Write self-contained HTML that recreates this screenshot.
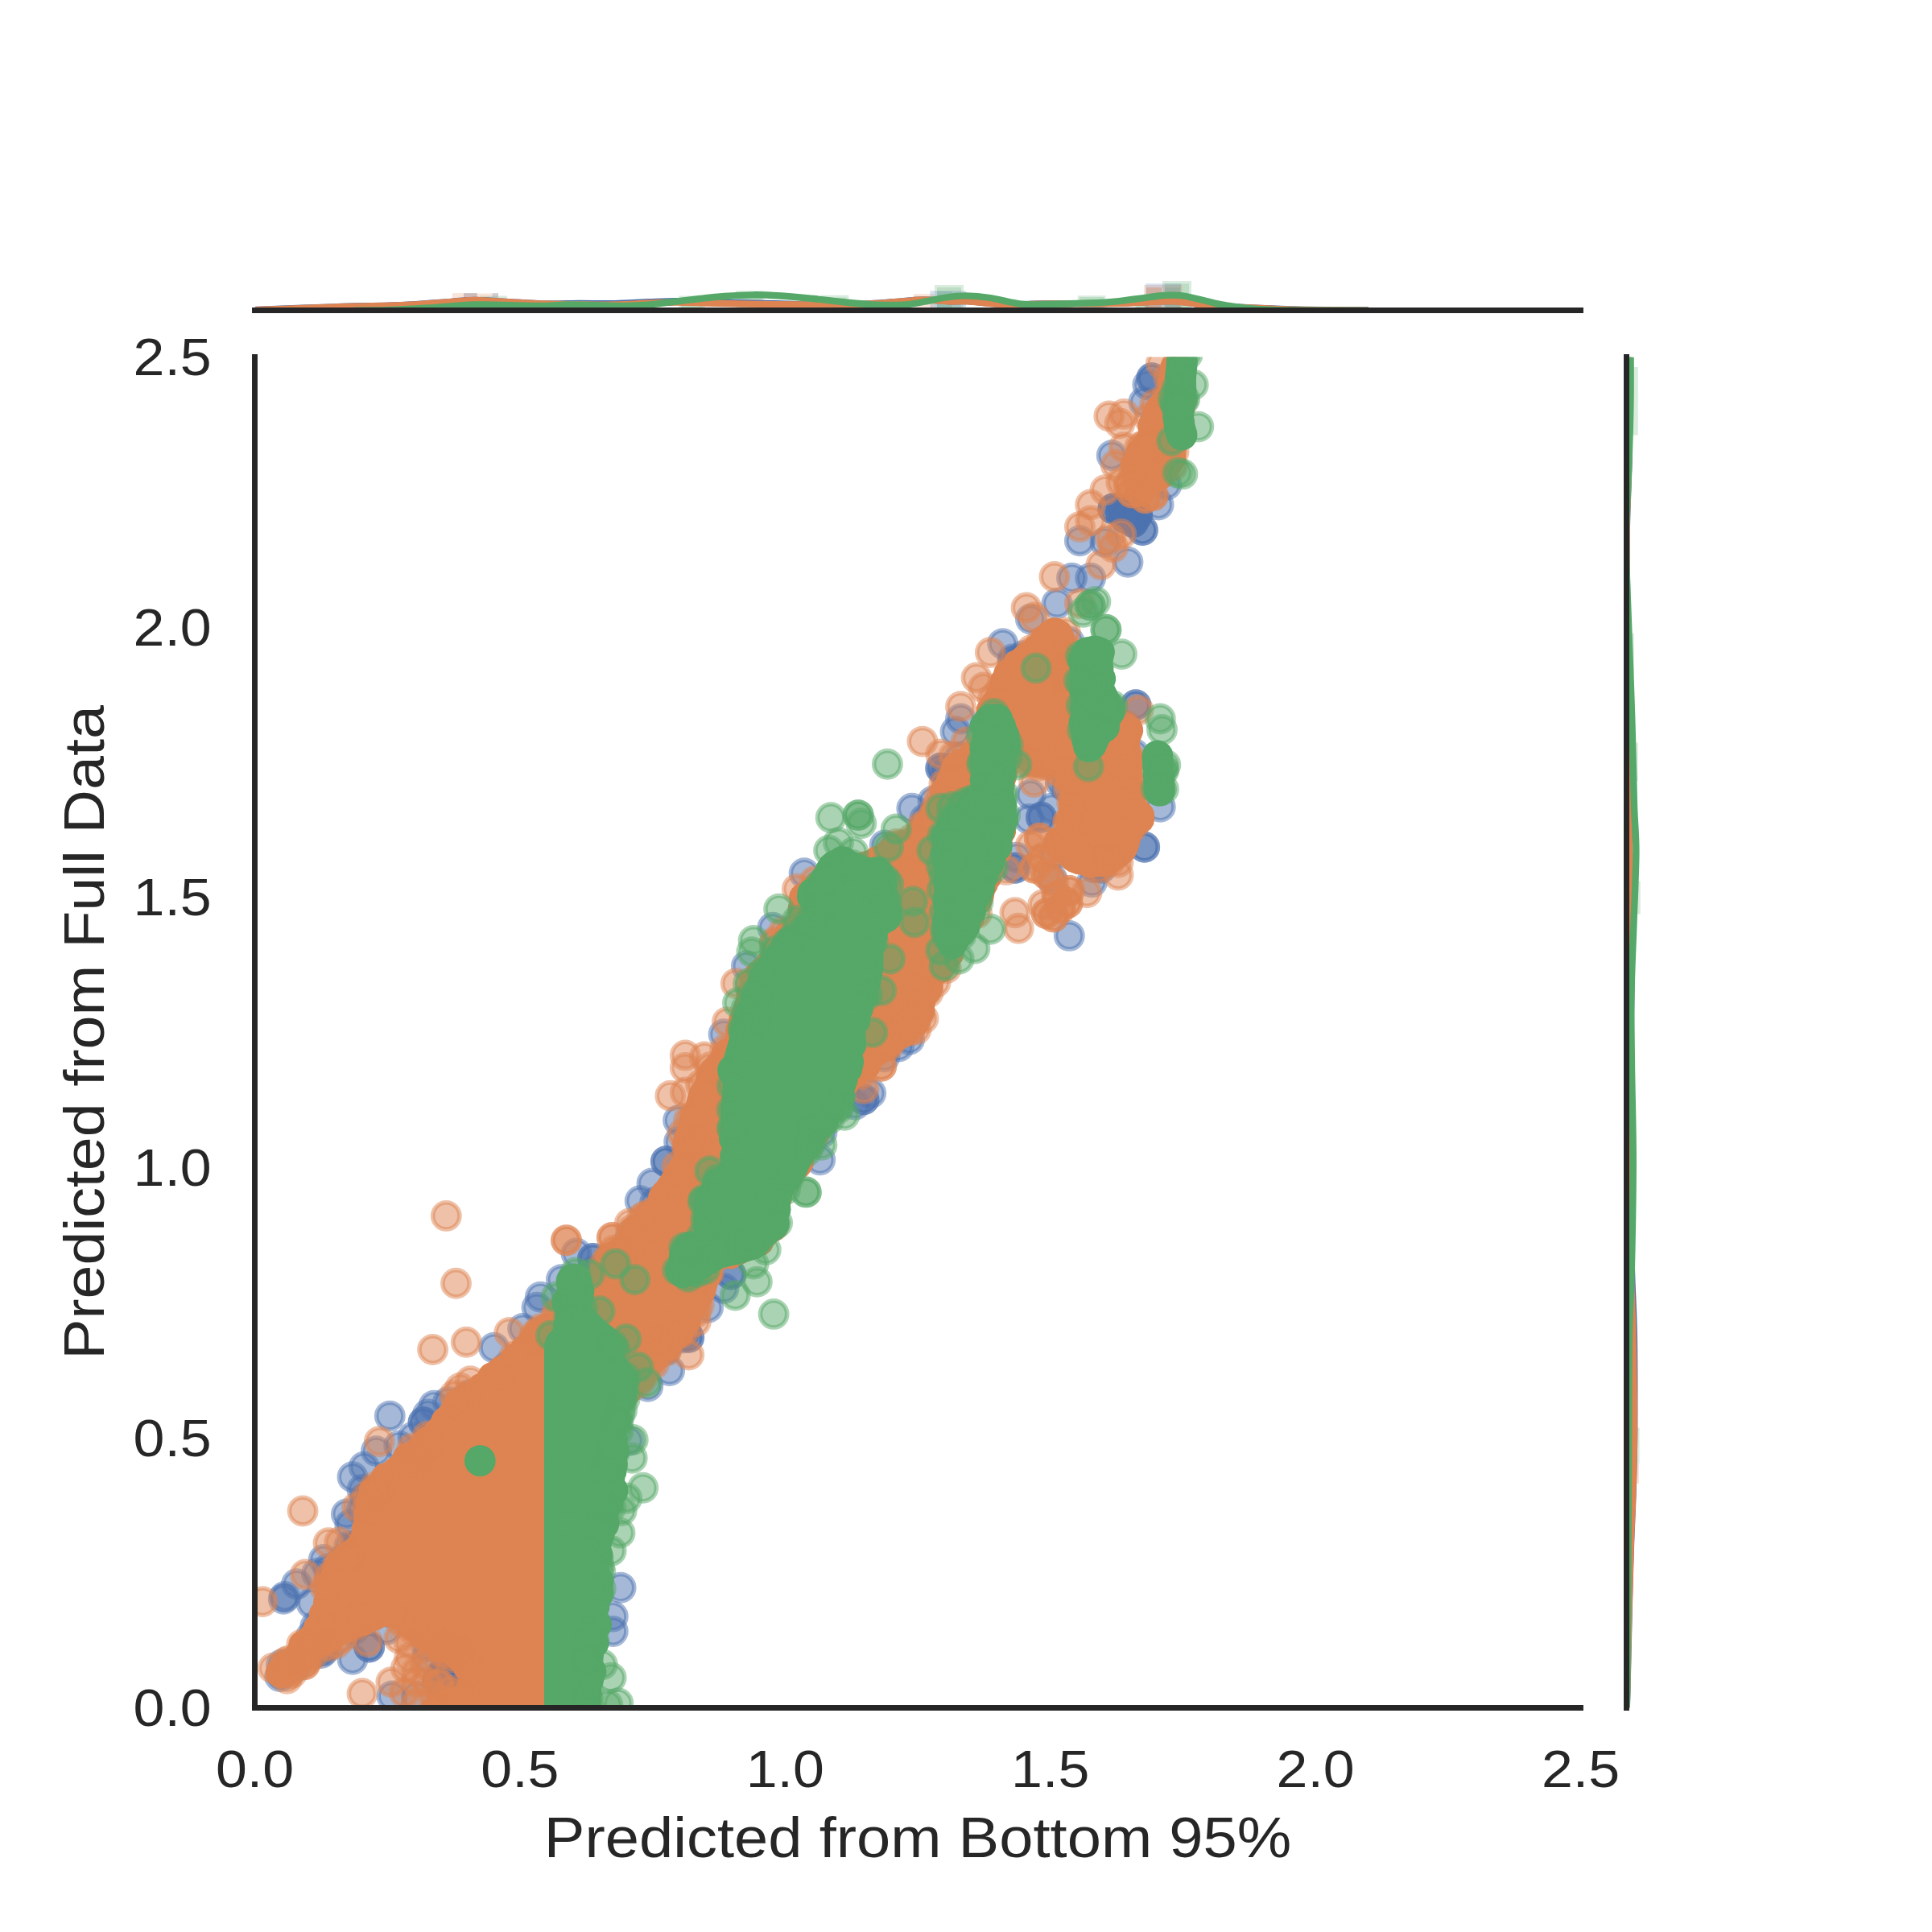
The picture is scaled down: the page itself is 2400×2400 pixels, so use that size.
<!DOCTYPE html>
<html lang="en"><head><meta charset="utf-8"><title>Predicted from Bottom 95% vs Predicted from Full Data</title><style>
html,body{margin:0;padding:0;background:#fff;}
body{width:2400px;height:2400px;overflow:hidden;font-family:"Liberation Sans",sans-serif;}
svg{display:block;}
svg text{font-family:"Liberation Sans",sans-serif;}
.mb circle,.mo circle,.mg circle{r:16.67px;stroke-width:5.56px;fill-opacity:.5;stroke-opacity:.5;}
.mb circle{fill:#4C72B0;stroke:#4C72B0;}
.mo circle{fill:#DD8452;stroke:#DD8452;}
.mg circle{fill:#55A868;stroke:#55A868;}
</style></head><body>
<svg width="2400" height="2400" viewBox="0 0 2400 2400">
<defs><clipPath id="cj"><rect x="316.5" y="443.5" width="1647.0" height="1678.0"/></clipPath><clipPath id="cx"><rect x="316.5" y="40" width="1647.0" height="345.5"/></clipPath><clipPath id="cy"><rect x="2020.5" y="443.5" width="330" height="1678.0"/></clipPath></defs>
<rect width="2400" height="2400" fill="#fff"/>
<g clip-path="url(#cj)">
<g class="mb"><circle cx="484.3" cy="1759.1" r="16.67"/><circle cx="526.1" cy="1766.7" r="16.67"/><circle cx="526.1" cy="1766.7" r="16.67"/><circle cx="531.5" cy="1757" r="16.67"/><circle cx="556.5" cy="1741.7" r="16.67"/><circle cx="467.4" cy="1802.6" r="16.67"/><circle cx="495.7" cy="1796.1" r="16.67"/><circle cx="438" cy="1834.8" r="16.67"/><circle cx="450" cy="1850.4" r="16.67"/><circle cx="434.8" cy="1893.9" r="16.67"/><circle cx="402.2" cy="1937.4" r="16.67"/><circle cx="368.5" cy="1967.8" r="16.67"/><circle cx="352.2" cy="1986.3" r="16.67"/><circle cx="353.7" cy="1983.5" r="16.67"/><circle cx="387" cy="1991.7" r="16.67"/><circle cx="438" cy="2061.3" r="16.67"/><circle cx="458.7" cy="2046.1" r="16.67"/><circle cx="458.7" cy="2046.1" r="16.67"/><circle cx="402.2" cy="2050.4" r="16.67"/><circle cx="487" cy="2107" r="16.67"/><circle cx="480.4" cy="2024.3" r="16.67"/><circle cx="550" cy="2078.7" r="16.67"/><circle cx="550" cy="2078.7" r="16.67"/><circle cx="550" cy="2078.7" r="16.67"/><circle cx="550" cy="2078.7" r="16.67"/><circle cx="543.5" cy="2087.4" r="16.67"/><circle cx="543.5" cy="2087.4" r="16.67"/><circle cx="543.5" cy="2087.4" r="16.67"/><circle cx="556.5" cy="2076.5" r="16.67"/><circle cx="556.5" cy="2076.5" r="16.67"/><circle cx="556.5" cy="2076.5" r="16.67"/><circle cx="517.4" cy="2107" r="16.67"/><circle cx="530.4" cy="2059.1" r="16.67"/><circle cx="539.1" cy="1746.1" r="16.67"/><circle cx="513" cy="1785.2" r="16.67"/><circle cx="452.2" cy="1822.2" r="16.67"/><circle cx="430.4" cy="1880.9" r="16.67"/><circle cx="393.5" cy="1954.8" r="16.67"/><circle cx="771.1" cy="1972.2" r="16.67"/><circle cx="761.3" cy="2008" r="16.67"/><circle cx="761.3" cy="2026.5" r="16.67"/><circle cx="804.8" cy="1722.2" r="16.67"/><circle cx="780.9" cy="1789.6" r="16.67"/><circle cx="715.9" cy="1557" r="16.67"/><circle cx="736.5" cy="1563.5" r="16.67"/><circle cx="736.5" cy="1563.5" r="16.67"/><circle cx="671.3" cy="1611.3" r="16.67"/><circle cx="667" cy="1624.3" r="16.67"/><circle cx="613.7" cy="1674.3" r="16.67"/><circle cx="795.2" cy="1491.7" r="16.67"/><circle cx="697.4" cy="1589.6" r="16.67"/><circle cx="649.6" cy="1650.4" r="16.67"/><circle cx="1081.7" cy="1358" r="16.67"/><circle cx="1062.2" cy="1372.2" r="16.67"/><circle cx="1018.7" cy="1440.7" r="16.67"/><circle cx="1020.9" cy="1407" r="16.67"/><circle cx="827.4" cy="1442.8" r="16.67"/><circle cx="827.4" cy="1442.8" r="16.67"/><circle cx="842.6" cy="1391.7" r="16.67"/><circle cx="810" cy="1470" r="16.67"/><circle cx="907.8" cy="1583" r="16.67"/><circle cx="907.8" cy="1583" r="16.67"/><circle cx="899.1" cy="1600.4" r="16.67"/><circle cx="879.6" cy="1624.3" r="16.67"/><circle cx="855.7" cy="1661.3" r="16.67"/><circle cx="855.7" cy="1661.3" r="16.67"/><circle cx="831.7" cy="1702.6" r="16.67"/><circle cx="1073" cy="1365.7" r="16.67"/><circle cx="1073" cy="1365.7" r="16.67"/><circle cx="1132.8" cy="1004.3" r="16.67"/><circle cx="1168.7" cy="954.3" r="16.67"/><circle cx="1168.7" cy="954.3" r="16.67"/><circle cx="999.1" cy="1084.8" r="16.67"/><circle cx="1116.5" cy="1300" r="16.67"/><circle cx="960" cy="1152.2" r="16.67"/><circle cx="1099.1" cy="1050" r="16.67"/><circle cx="927.4" cy="1200" r="16.67"/><circle cx="899.1" cy="1284.8" r="16.67"/><circle cx="1129.6" cy="1291.3" r="16.67"/><circle cx="1328.3" cy="1162.4" r="16.67"/><circle cx="1260.9" cy="1078.3" r="16.67"/><circle cx="1260.9" cy="1078.3" r="16.67"/><circle cx="1263" cy="1065.2" r="16.67"/><circle cx="1278.3" cy="1017.4" r="16.67"/><circle cx="1293.5" cy="1015.2" r="16.67"/><circle cx="1293.5" cy="1015.2" r="16.67"/><circle cx="1306.5" cy="1004.3" r="16.67"/><circle cx="1317.4" cy="971.7" r="16.67"/><circle cx="1280.4" cy="987" r="16.67"/><circle cx="1421.7" cy="1052.2" r="16.67"/><circle cx="1421.7" cy="1052.2" r="16.67"/><circle cx="1441.3" cy="1002.2" r="16.67"/><circle cx="1187" cy="908.7" r="16.67"/><circle cx="1356.5" cy="1095.7" r="16.67"/><circle cx="1306.5" cy="1091.3" r="16.67"/><circle cx="1313" cy="749.6" r="16.67"/><circle cx="1280.4" cy="769.1" r="16.67"/><circle cx="1245.7" cy="799.6" r="16.67"/><circle cx="1410.9" cy="875.7" r="16.67"/><circle cx="1410.9" cy="875.7" r="16.67"/><circle cx="1193.5" cy="893" r="16.67"/><circle cx="1430.8" cy="469.7" r="16.67"/><circle cx="1430.8" cy="469.7" r="16.67"/><circle cx="1425.9" cy="478" r="16.67"/><circle cx="1420.9" cy="499.5" r="16.67"/><circle cx="1381.2" cy="565.8" r="16.67"/><circle cx="1382.8" cy="632" r="16.67"/><circle cx="1382.8" cy="632" r="16.67"/><circle cx="1382.8" cy="632" r="16.67"/><circle cx="1392.8" cy="635.3" r="16.67"/><circle cx="1392.8" cy="635.3" r="16.67"/><circle cx="1392.8" cy="635.3" r="16.67"/><circle cx="1402.7" cy="633.7" r="16.67"/><circle cx="1402.7" cy="633.7" r="16.67"/><circle cx="1402.7" cy="633.7" r="16.67"/><circle cx="1412.6" cy="640.3" r="16.67"/><circle cx="1412.6" cy="640.3" r="16.67"/><circle cx="1412.6" cy="640.3" r="16.67"/><circle cx="1419.3" cy="658.5" r="16.67"/><circle cx="1419.3" cy="658.5" r="16.67"/><circle cx="1397.7" cy="643.6" r="16.67"/><circle cx="1397.7" cy="643.6" r="16.67"/><circle cx="1397.7" cy="643.6" r="16.67"/><circle cx="1407.7" cy="648.6" r="16.67"/><circle cx="1407.7" cy="648.6" r="16.67"/><circle cx="1407.7" cy="648.6" r="16.67"/><circle cx="1439.1" cy="627" r="16.67"/><circle cx="1449.1" cy="602.2" r="16.67"/><circle cx="1341.4" cy="671.8" r="16.67"/><circle cx="1401" cy="698.3" r="16.67"/><circle cx="1354.7" cy="718.1" r="16.67"/><circle cx="1331.5" cy="718.1" r="16.67"/><circle cx="1372.9" cy="673.4" r="16.67"/><circle cx="391.8" cy="2020.3" r="16.67"/><circle cx="439.7" cy="2024.4" r="16.67"/><circle cx="1328.1" cy="797.1" r="16.67"/><circle cx="449.2" cy="1876.5" r="16.67"/><circle cx="575.8" cy="1739.4" r="16.67"/><circle cx="580.4" cy="1737.4" r="16.67"/><circle cx="399" cy="2053.6" r="16.67"/><circle cx="1310.2" cy="1060.7" r="16.67"/><circle cx="1323.6" cy="978" r="16.67"/><circle cx="1270.4" cy="815" r="16.67"/><circle cx="783.4" cy="1533.8" r="16.67"/><circle cx="349.5" cy="2068" r="16.67"/><circle cx="433.2" cy="2025.6" r="16.67"/><circle cx="347.7" cy="2082.5" r="16.67"/><circle cx="827.6" cy="1676.6" r="16.67"/><circle cx="1408.7" cy="936.3" r="16.67"/><circle cx="637.1" cy="2173.2" r="16.67"/><circle cx="1359.7" cy="1077.8" r="16.67"/><circle cx="630.7" cy="1697.3" r="16.67"/><circle cx="1174.8" cy="955.3" r="16.67"/><circle cx="442.1" cy="1919.7" r="16.67"/><circle cx="456" cy="1859.9" r="16.67"/><circle cx="530.1" cy="2045.2" r="16.67"/><circle cx="566.6" cy="2162.8" r="16.67"/><circle cx="407.8" cy="1948.8" r="16.67"/><circle cx="738.7" cy="1578.8" r="16.67"/><circle cx="620.2" cy="2165.3" r="16.67"/><circle cx="1191.5" cy="940.9" r="16.67"/><circle cx="843.6" cy="1418.2" r="16.67"/><circle cx="426.6" cy="1936.7" r="16.67"/><circle cx="570.7" cy="2097.9" r="16.67"/><circle cx="1398.4" cy="901.4" r="16.67"/><circle cx="1109" cy="1056.4" r="16.67"/><circle cx="1368.1" cy="1078.3" r="16.67"/><circle cx="577.5" cy="2094.5" r="16.67"/><circle cx="1258.5" cy="821.7" r="16.67"/><circle cx="1159" cy="995.1" r="16.67"/><circle cx="387.9" cy="2054.9" r="16.67"/><circle cx="1148.9" cy="1017.4" r="16.67"/><circle cx="433.8" cy="1920.3" r="16.67"/><circle cx="439.9" cy="1923.2" r="16.67"/><circle cx="584.5" cy="1732.2" r="16.67"/><circle cx="1173.8" cy="962" r="16.67"/><circle cx="667.2" cy="2165" r="16.67"/><circle cx="481.8" cy="2002.2" r="16.67"/><circle cx="566.3" cy="2105" r="16.67"/><circle cx="453.7" cy="1860.6" r="16.67"/><circle cx="1311.9" cy="947.6" r="16.67"/><circle cx="1157.9" cy="1013" r="16.67"/><circle cx="1098.9" cy="1312.7" r="16.67"/><circle cx="813.7" cy="1493.5" r="16.67"/><circle cx="735.9" cy="1581.1" r="16.67"/><circle cx="406" cy="2044.8" r="16.67"/><circle cx="586.7" cy="2087" r="16.67"/><circle cx="368.3" cy="2070.1" r="16.67"/><circle cx="852.1" cy="1653.6" r="16.67"/><circle cx="386.4" cy="2032.8" r="16.67"/><circle cx="610" cy="2172.9" r="16.67"/><circle cx="409.4" cy="1965.9" r="16.67"/><circle cx="1301.8" cy="948.7" r="16.67"/><circle cx="547.5" cy="2044.9" r="16.67"/><circle cx="1257.8" cy="819" r="16.67"/><circle cx="847.5" cy="1662.1" r="16.67"/></g>
<path fill="#DD8452" d="M1428.9,493.6L1425.9,497.7L1417.7,513.3L1416.5,518.2L1415,521L1413.3,527.2L1413.3,532.2L1414,536.6L1408.6,545.5L1403.9,549L1400.8,553L1398.8,557.7L1398.2,563.4L1393.9,568.6L1391.4,575.8L1391.4,580.8L1392.7,585.7L1394.7,589.3L1395.2,596.9L1399.1,604.7L1402.1,608.7L1406.2,611.8L1412.6,615.5L1417.5,616.8L1428,616.3L1432.9,615.1L1444.3,609.5L1454.8,603L1459.3,597.9L1464.4,587.2L1467.1,582.9L1469.4,580.4L1472,576L1473.3,571.2L1473.3,566.1L1472.7,563.3L1474.2,555.9L1473.5,548.7L1475.6,541.8L1480.3,536.6L1483.6,529.8L1484.1,522.2L1482.4,516.6L1484.1,512.5L1484.7,506.7L1486.6,502.2L1487.2,497.2L1486.1,490.9L1486.5,484L1485.2,479.1L1483.7,476.2L1486,469.4L1486,464.3L1484.6,459.4L1482.3,455.3L1481,449.1L1477.1,443.3L1474.4,441.1L1468.3,437.7L1460.9,436.2L1453.5,437.7L1447.2,441.9L1444.1,445.9L1442.2,450.6L1440.2,464.3L1439,466.7L1437.7,471.6L1437.7,476.7L1438.8,480.9L1436.9,483.7L1435.3,487.2ZM540.9,1752.3L537.9,1756.3L534.5,1763.8L530.2,1767.8L528,1771.5L523.4,1773.4L519.4,1776.5L516.3,1780.5L514.3,1785.6L510.1,1790.3L508.3,1791.9L504.4,1792L499.5,1793.3L495.1,1795.8L490.1,1801.5L487.8,1808.3L476.9,1816.9L470.3,1819.2L466.3,1822.3L463.2,1826.3L459.9,1832.7L456.4,1836.7L450.9,1840.5L447.8,1844.5L445.9,1849.2L444.6,1857.5L442,1865.1L441.8,1872.4L439.5,1879.4L440,1888.8L437.7,1892.9L436.4,1897.8L436.7,1904.6L432.8,1910.7L429.6,1914.2L418.1,1925.8L413.8,1927L409.4,1929.5L404.4,1935.2L402.5,1939.9L401.9,1944.5L399.1,1950.4L398.5,1954.1L394,1959.4L392,1964.1L390.9,1975.4L391.9,1981.2L389.4,1986.8L388.8,1992.9L386.2,1996.3L384.2,2001L383.7,2008.3L378.7,2014L376.3,2020.6L371.2,2026.2L365.7,2029.1L362.1,2032.7L359.6,2037.1L358.2,2043.7L354.1,2050.3L350.9,2052.1L347.4,2053.2L343,2055.7L333.9,2066.1L331.3,2070.5L330,2075.4L330,2080.4L331.3,2085.3L335.6,2091.6L341.8,2095.8L349.3,2097.3L356.7,2095.8L362.6,2092L366.4,2090.9L370.8,2088.3L374.4,2084.8L377.1,2080.2L383.6,2074.1L388.4,2070.7L391.7,2066.2L397.2,2060.8L411.7,2053.2L417.6,2049.2L423.2,2047.1L427.6,2043.5L439.4,2039L443.4,2035.9L445.2,2033.8L449.8,2032.2L453.2,2032.1L458.1,2030.8L462.5,2028.2L465,2025.9L471.7,2024.5L476.4,2021.6L480.6,2020.6L482.8,2020.6L491.4,2024.5L497,2031.6L509.3,2039.6L512.3,2043.7L516.3,2046.7L524.8,2051.4L529.1,2052.6L533.2,2054.9L536.8,2056L545.4,2060.6L548.4,2063.4L553.7,2066.3L556.5,2069.9L563.4,2075.8L565.3,2080.3L569.9,2085.7L568.1,2089L566.9,2093.2L561.3,2096.9L555.6,2097.5L544.5,2101.4L540.5,2104.5L537.3,2108.6L531.5,2110L527.2,2112.5L523.1,2116.7L515.2,2122.7L512.2,2126.8L510.3,2133.4L510.3,2162.4L511.6,2167.5L513.2,2170.5L518.2,2175.5L522.9,2177.7L526.3,2178.4L540.2,2178.5L545.3,2181.5L552.7,2182.9L557.7,2182.3L564.9,2179.6L569.5,2180.2L576.7,2179.2L583.1,2180.2L588.1,2179.6L591,2178.5L593.6,2178.5L598.1,2180.3L603.2,2181L608.2,2180.3L612.9,2178.5L618.5,2181L623.7,2181.7L628,2183.4L633,2184.1L640.5,2182.6L646.6,2178.5L649.8,2178.5L656.4,2179.9L662.3,2182.7L667.3,2183.3L672.4,2182.7L674.9,2181.8L684.9,2180.8L690.1,2178.5L692.8,2178.5L696.5,2179.4L701.3,2179.4L704.7,2180.7L709.7,2181.4L717.2,2179.9L721.5,2177.4L725.1,2173.8L727.7,2169.4L729,2164.5L729,2159.4L727.7,2154.7L728.1,2150.7L727.5,2145.8L728,2143.6L730.6,2137.9L731.2,2132.9L730.6,2127.9L728.2,2122.6L728.4,2120.6L729.9,2117.7L731.2,2112.8L731.2,2107.8L729.9,2102.9L729.5,2099.2L731.3,2094.8L732,2089.8L731.3,2084.8L729.3,2079.2L732.3,2070L732,2058.2L730.9,2054.1L731.1,2051.8L732.2,2045.5L734,2039.5L734.2,2030.5L735.6,2023.3L735.3,2016L733.6,2010.3L735.2,1984.5L738.5,1979.3L741.4,1966.6L740.9,1959L738.5,1953.6L739.4,1947.8L738,1940.5L739.3,1918.8L740.9,1915.8L742.2,1911L742.2,1905.9L741.5,1902.6L742.4,1898.8L742.5,1894.8L743.6,1890.7L746,1888.2L748.5,1883.8L749.9,1878.9L749.9,1873.8L747.8,1867.3L747.9,1866L749.2,1863.4L750.5,1858.5L750.5,1853.5L749.9,1850.6L751.9,1843.5L751.7,1837.6L754.6,1821.6L758.3,1815.9L759.6,1811L759.6,1805.9L758.3,1801L758.6,1799.6L759,1798.5L762.2,1795.3L764.7,1790.9L766,1786L766.1,1782.2L769.7,1778.6L772.3,1774.3L773.6,1769.4L773.3,1762.8L774.4,1759.8L778.4,1755.3L783.9,1752.4L787.4,1748.8L790.7,1742.4L794.5,1738.2L804.2,1725.1L809.4,1722.3L813,1718.7L815.5,1714.4L817.4,1707.5L820.2,1705.7L823.8,1702.1L826.3,1697.8L827.4,1694.3L830.3,1691.8L835.3,1690.4L841.6,1686.2L844.7,1682.2L846.9,1675.9L848.3,1674.4L855.3,1669.4L858.9,1665.9L861.4,1661.5L863.5,1655.5L867,1652L869.6,1647.6L870.9,1642.7L871,1638.8L880.6,1623.2L888.4,1609.3L891.2,1597.4L895.4,1590L897.4,1585.3L897.8,1577.7L902,1576L909.4,1576.5L914.3,1575.2L920.6,1570.9L924.4,1569.8L928.7,1567.4L942.8,1563.1L947.4,1560.3L952,1558.4L957.7,1553.4L960.9,1547.1L964.9,1542.4L971.4,1539.1L975,1535.5L977.5,1531.2L978.8,1526.3L979.6,1515.4L978.1,1508L979.1,1505.2L979.8,1499.9L982.4,1495.4L983.7,1491.3L984.3,1484.5L986.2,1478.1L989,1476.8L993,1473.7L996.1,1469.7L998.3,1463.7L1003,1460.3L1006.1,1456.3L1008.8,1451.9L1010.8,1447.2L1011.4,1442.2L1011.2,1438.7L1020,1424.7L1024.1,1422.3L1027.7,1418.7L1030.2,1414.3L1032.2,1408.9L1036.3,1404.9L1040.1,1399.4L1042,1394.8L1042.5,1391.7L1051.6,1379.4L1053.6,1374.7L1054.1,1371.7L1057.9,1367L1060.3,1360.1L1063.6,1356.7L1066.7,1350.8L1072.4,1348.6L1076.5,1345.3L1079.4,1341.4L1082.5,1340.5L1086.8,1338L1091.8,1332.3L1095.2,1323.4L1101,1320.4L1110.9,1311.5L1119.9,1305.8L1126.4,1300.9L1129.1,1300L1134.6,1296.9L1138.8,1292.4L1145.7,1287.1L1152,1280.1L1153.7,1277L1156.1,1269.2L1158.8,1265.6L1160.8,1261L1161.4,1255.9L1160.9,1251.6L1162.4,1245L1166,1241.3L1168.6,1236.9L1171.4,1228.5L1171.9,1221.6L1177.2,1218.7L1180.8,1215.1L1183.8,1209.4L1186.5,1206.1L1189.1,1201.2L1194.9,1193.9L1196.9,1189.2L1197.5,1184.2L1203,1173.1L1214.1,1158.4L1216.2,1154.8L1221,1149.3L1223.4,1142.1L1223.1,1135.5L1223.6,1134.5L1228.8,1129.8L1231.4,1125.4L1234.5,1116.2L1235.5,1110L1238.4,1105.1L1239.4,1101.7L1242.3,1097.9L1244.3,1093.2L1244.8,1086.4L1247.8,1080.1L1248.4,1073.6L1250.2,1070.8L1252.9,1067.9L1255.5,1063.5L1256.8,1058.7L1256.8,1053.8L1257.8,1049.7L1257.7,1044.3L1260.8,1039.3L1262.1,1034.4L1261.6,1026.9L1258.6,1020.6L1260.7,1009.7L1259.4,1002.7L1259.5,981.7L1260.6,977.5L1260.7,974.5L1264.1,962.4L1263.7,955.3L1265.3,953.8L1268.4,956.8L1275.7,961.8L1282.1,964.6L1285.5,965.5L1290.8,965.6L1299.6,963L1305.8,962.3L1314.3,970.8L1313.9,977.9L1315.3,982.7L1316.5,985.2L1316.6,987.7L1314.8,997L1315.3,1006.2L1314,1009.5L1312.3,1019.3L1312.3,1024.4L1310.6,1026.6L1302.5,1032.1L1299.1,1035.9L1296.4,1042.1L1296.2,1048.8L1297,1052L1301.4,1061.5L1304.5,1065.5L1308.5,1068.6L1313,1070.5L1317.5,1073.3L1321,1078.3L1327.3,1082.5L1336.6,1085.9L1342,1086.5L1344.6,1088.3L1349.3,1090.3L1354.3,1090.9L1359.3,1090.3L1363.1,1088.8L1367.4,1089.3L1372.4,1088.6L1378.3,1085.9L1382.7,1084.8L1385.6,1083.4L1401,1074.1L1408.7,1065.8L1411.3,1061.4L1413.9,1054.9L1418.3,1038.2L1429.4,1029.9L1433,1024.3L1434.5,1017L1433.7,1008.8L1431.7,1004.1L1428.6,1000.1L1424.6,997L1422.2,995.9L1423.9,990.2L1423.9,985.1L1422.6,980.3L1418.9,973.8L1418.7,970.6L1420,964L1418.7,957.1L1421.7,950.7L1422.4,945.7L1420.9,938.3L1418.4,933.9L1416.5,931.8L1415.9,921.5L1419.5,912L1420.2,908.5L1419.8,903.1L1418.6,899.7L1416.9,896.6L1414.5,893.9L1405.5,887.6L1400.8,885.6L1396.7,885L1394.1,882.5L1389.7,879.9L1384.8,878.6L1379.7,878.6L1371.1,873.6L1364.5,871.2L1361.4,867.4L1357.4,864.3L1352.7,862.3L1348.6,861.7L1343.4,858.4L1341.9,840.8L1342.2,834.3L1341,829.8L1340.6,825.2L1342.5,819.2L1342,811.6L1338.9,805.2L1338.2,799.6L1331,779.7L1328.2,775.5L1325.7,773.2L1317.8,768.8L1312.6,767.2L1308.9,767L1305.3,767.5L1300.2,769.7L1294.8,773.2L1291.1,777.1L1285.5,781L1282.4,785L1280.4,789.8L1276.3,792.4L1271.8,797.2L1266.1,800.9L1258.5,807.4L1252.5,810.5L1248.9,814.1L1246,819.5L1241.6,822L1238,825.6L1235.5,830L1234.2,835L1231.8,838.2L1229.9,842.9L1229.2,847.9L1229.6,851.4L1226.7,855.1L1224.7,860.3L1221.4,863.7L1218.3,869.6L1214.8,873.9L1212.9,878.6L1212.3,884.4L1211,889.3L1211.1,894.8L1208.7,900.1L1207.2,907.1L1207.5,913.5L1206.1,920.3L1199.9,922.5L1195.9,925.6L1192.9,929.5L1180.5,935.5L1175.2,939.7L1173,942.3L1170.7,947L1166.5,960.2L1164.2,963.3L1162.3,968L1158.8,972.4L1156.2,978.2L1154.8,983.1L1154.8,987.1L1152.8,991.7L1151.7,993.9L1149.4,995.8L1146.3,999.8L1144.4,1004.5L1143.8,1008.6L1139.9,1010.9L1136.3,1014.4L1133.4,1019.9L1130.9,1021.5L1127.3,1025.1L1124,1031.6L1121.6,1034L1115.8,1037.8L1109.6,1038.4L1097.5,1042.5L1087.7,1050.5L1081.6,1052.7L1077.1,1056.3L1063,1060.6L1060.3,1060.4L1055.2,1061.1L1050.6,1063L1046.6,1066L1040.7,1068L1034.4,1068.6L1029.7,1070.5L1024.2,1075.3L1013.1,1082.1L1009.9,1083.1L1005.5,1085.6L999.4,1090.9L994.3,1096.8L987.5,1100.1L983.9,1103.7L981.4,1108.1L980.1,1113L980.6,1120.6L978.9,1124.8L978.3,1129.8L979.5,1136.4L978.7,1139.7L977.2,1141.3L974.1,1142.3L969.7,1144.8L966.1,1148.4L963.6,1152.8L962.6,1156.1L957.5,1161.3L955,1165.2L951.8,1167.7L948.7,1171.8L946.8,1176.4L945.7,1181.7L936.2,1193.9L930.2,1198.3L926.6,1201.9L920.3,1212.4L919,1217.3L919.1,1222.6L916.9,1225.5L915,1230.2L914.3,1235.2L914.7,1238.5L908.7,1257.4L905.8,1262.2L904.4,1269.3L901.7,1275.1L901,1280.1L901.7,1285.3L901,1288.7L894.3,1292L888.5,1297.4L884.3,1303.7L882.9,1309.7L879.2,1312.6L876.7,1315.8L872,1320.1L867.8,1326.4L866.4,1332.5L861.9,1345.6L857.9,1350.5L856,1355.2L852.5,1368.5L851.9,1374.8L848.5,1378.2L846.3,1381.4L844.4,1386.1L843.8,1393L838.8,1409.7L836.8,1413.2L835.5,1418.1L835.5,1423.2L837.6,1429.6L837.5,1433.6L830.7,1445.7L825.8,1451.4L823.6,1457.4L815.9,1468.2L812.1,1471.9L807.7,1478.2L805.7,1482.9L805.2,1486.6L803.1,1492.8L799,1494.1L794.6,1496.6L789.6,1502.3L786.7,1508.8L780.5,1511.1L774.8,1516.1L772.2,1520.5L771,1525.2L766.5,1530.4L764.1,1537L762.7,1538.9L758.6,1541L754.9,1543.8L749.3,1545.9L743.6,1550.9L740.3,1557.7L739.7,1563.9L737.5,1565.8L734.4,1569.8L732.2,1575.7L710.6,1601.5L688.7,1621.7L685.3,1623.2L681.3,1626.3L678,1630.7L676.8,1631.7L673.6,1632.2L668.9,1634.1L664.9,1637.2L661.1,1642.6L658.2,1644L654.1,1647L645.5,1658.7L639.2,1662.9L636.1,1667L634.7,1670L628.7,1674.1L624,1678.9L622.1,1682L617.4,1685.4L611.9,1688.3L607.9,1692.6L604.7,1693.5L600.3,1696.1L596.7,1699.7L593.5,1705.9L587.5,1709L580.7,1716.6L575.9,1719.2L571.1,1724.6L567.8,1724.7L562.9,1726L556.6,1730.2L553.6,1734.2L551.5,1739.4L549.8,1741.9L548.2,1745.7L544.6,1749.5Z"/>
<g class="mo"><circle cx="471.3" cy="1790.7" r="16.67"/><circle cx="376.1" cy="1877" r="16.67"/><circle cx="408" cy="1916.7" r="16.67"/><circle cx="421.7" cy="1915.7" r="16.67"/><circle cx="379.3" cy="1955.9" r="16.67"/><circle cx="326.1" cy="1989.6" r="16.67"/><circle cx="450" cy="2103.7" r="16.67"/><circle cx="485.9" cy="2089.6" r="16.67"/><circle cx="456.5" cy="2039.6" r="16.67"/><circle cx="417.4" cy="2041.7" r="16.67"/><circle cx="378.3" cy="2067.8" r="16.67"/><circle cx="356.5" cy="2085.2" r="16.67"/><circle cx="339.1" cy="2072.2" r="16.67"/><circle cx="495.7" cy="2035.2" r="16.67"/><circle cx="508.7" cy="2059.1" r="16.67"/><circle cx="517.4" cy="2076.5" r="16.67"/><circle cx="539.1" cy="2046.1" r="16.67"/><circle cx="517.4" cy="2089.6" r="16.67"/><circle cx="504.3" cy="2072.2" r="16.67"/><circle cx="530.4" cy="2089.6" r="16.67"/><circle cx="502.2" cy="2102.6" r="16.67"/><circle cx="571.7" cy="1724.3" r="16.67"/><circle cx="443.5" cy="1872.2" r="16.67"/><circle cx="517.4" cy="2115.7" r="16.67"/><circle cx="539.1" cy="2107" r="16.67"/><circle cx="560.9" cy="2059.1" r="16.67"/><circle cx="550" cy="2054.8" r="16.67"/><circle cx="528.3" cy="2067.8" r="16.67"/><circle cx="508.7" cy="2041.7" r="16.67"/><circle cx="554.3" cy="1510.4" r="16.67"/><circle cx="566.5" cy="1594.3" r="16.67"/><circle cx="537.6" cy="1676.5" r="16.67"/><circle cx="579.3" cy="1667.2" r="16.67"/><circle cx="632.8" cy="1655.4" r="16.67"/><circle cx="703.5" cy="1540.7" r="16.67"/><circle cx="703.5" cy="1540.7" r="16.67"/><circle cx="584.3" cy="1715.7" r="16.67"/><circle cx="760.4" cy="1537.4" r="16.67"/><circle cx="760.4" cy="1537.4" r="16.67"/><circle cx="782.2" cy="1520" r="16.67"/><circle cx="564.8" cy="1733" r="16.67"/><circle cx="832.8" cy="1361.3" r="16.67"/><circle cx="851.3" cy="1357" r="16.67"/><circle cx="851.3" cy="1326.5" r="16.67"/><circle cx="855.7" cy="1683" r="16.67"/><circle cx="1094.8" cy="1324.3" r="16.67"/><circle cx="1094.8" cy="1324.3" r="16.67"/><circle cx="1073" cy="1352.6" r="16.67"/><circle cx="864.3" cy="1641.7" r="16.67"/><circle cx="1145.9" cy="921.1" r="16.67"/><circle cx="1168.7" cy="937" r="16.67"/><circle cx="914.3" cy="1221.7" r="16.67"/><circle cx="990.4" cy="1104.3" r="16.67"/><circle cx="851.3" cy="1310.9" r="16.67"/><circle cx="875.2" cy="1313" r="16.67"/><circle cx="903.5" cy="1269.6" r="16.67"/><circle cx="1147" cy="1265.2" r="16.67"/><circle cx="1184.8" cy="939.1" r="16.67"/><circle cx="1200" cy="921.7" r="16.67"/><circle cx="1284.8" cy="1078.3" r="16.67"/><circle cx="1284.8" cy="1078.3" r="16.67"/><circle cx="1308.7" cy="1095.7" r="16.67"/><circle cx="1328.3" cy="1106.5" r="16.67"/><circle cx="1328.3" cy="1106.5" r="16.67"/><circle cx="1317.4" cy="1128.3" r="16.67"/><circle cx="1317.4" cy="1128.3" r="16.67"/><circle cx="1308.7" cy="1139.1" r="16.67"/><circle cx="1308.7" cy="1139.1" r="16.67"/><circle cx="1295.7" cy="1123.9" r="16.67"/><circle cx="1350" cy="1108.7" r="16.67"/><circle cx="1389.1" cy="1087" r="16.67"/><circle cx="1260.9" cy="1133.7" r="16.67"/><circle cx="1265.2" cy="1153.3" r="16.67"/><circle cx="1284.8" cy="971.7" r="16.67"/><circle cx="1291.3" cy="1041.3" r="16.67"/><circle cx="1291.3" cy="1041.3" r="16.67"/><circle cx="1280.4" cy="1050" r="16.67"/><circle cx="1250" cy="1080.4" r="16.67"/><circle cx="1313" cy="1113" r="16.67"/><circle cx="1313" cy="1113" r="16.67"/><circle cx="1326.1" cy="1121.7" r="16.67"/><circle cx="1326.1" cy="1121.7" r="16.67"/><circle cx="1300" cy="1134.8" r="16.67"/><circle cx="1300" cy="1134.8" r="16.67"/><circle cx="1295" cy="1066" r="16.67"/><circle cx="1295" cy="1066" r="16.67"/><circle cx="1300" cy="1086" r="16.67"/><circle cx="1300" cy="1086" r="16.67"/><circle cx="1414" cy="882" r="16.67"/><circle cx="549" cy="2113" r="16.67"/><circle cx="560" cy="2100" r="16.67"/><circle cx="545" cy="2092" r="16.67"/><circle cx="545" cy="2092" r="16.67"/><circle cx="1275" cy="755" r="16.67"/><circle cx="1284.8" cy="767" r="16.67"/><circle cx="1230.4" cy="810.4" r="16.67"/><circle cx="1213" cy="842" r="16.67"/><circle cx="1221.7" cy="853.9" r="16.67"/><circle cx="1193.5" cy="877.8" r="16.67"/><circle cx="1341.3" cy="749.6" r="16.67"/><circle cx="1442.4" cy="451.5" r="16.67"/><circle cx="1377.8" cy="516.9" r="16.67"/><circle cx="1396.1" cy="514.4" r="16.67"/><circle cx="1391.1" cy="526" r="16.67"/><circle cx="1396.1" cy="555.8" r="16.67"/><circle cx="1386.1" cy="577.3" r="16.67"/><circle cx="1372.9" cy="608.8" r="16.67"/><circle cx="1354.7" cy="627" r="16.67"/><circle cx="1354.7" cy="646.9" r="16.67"/><circle cx="1341.4" cy="654.4" r="16.67"/><circle cx="1379.5" cy="668.4" r="16.67"/><circle cx="1392.8" cy="663.5" r="16.67"/><circle cx="1382.8" cy="680" r="16.67"/><circle cx="1367.9" cy="701.6" r="16.67"/><circle cx="1309.9" cy="716.5" r="16.67"/><circle cx="1422.6" cy="618.8" r="16.67"/><circle cx="1422.6" cy="618.8" r="16.67"/><circle cx="1415.9" cy="610.5" r="16.67"/><circle cx="1415.9" cy="610.5" r="16.67"/><circle cx="1432.5" cy="615.4" r="16.67"/><circle cx="1432.5" cy="615.4" r="16.67"/><circle cx="1406" cy="612.1" r="16.67"/><circle cx="1406" cy="612.1" r="16.67"/><circle cx="1402.7" cy="602.2" r="16.67"/><circle cx="1402.7" cy="602.2" r="16.67"/><circle cx="1392.8" cy="598.9" r="16.67"/><circle cx="763.1" cy="1553.2" r="16.67"/><circle cx="876.7" cy="1361.6" r="16.67"/><circle cx="880.5" cy="1580.4" r="16.67"/><circle cx="1330.3" cy="1059" r="16.67"/><circle cx="1172.9" cy="973.7" r="16.67"/><circle cx="577.3" cy="1750.6" r="16.67"/><circle cx="1396.1" cy="930.6" r="16.67"/><circle cx="403.7" cy="1971.8" r="16.67"/><circle cx="691.9" cy="1630.7" r="16.67"/><circle cx="429.3" cy="1936" r="16.67"/><circle cx="850.9" cy="1462.6" r="16.67"/><circle cx="1158" cy="1015.4" r="16.67"/><circle cx="454.9" cy="1908.1" r="16.67"/><circle cx="448" cy="2007.1" r="16.67"/><circle cx="1156" cy="1025.3" r="16.67"/><circle cx="541.4" cy="2123.1" r="16.67"/><circle cx="1101.7" cy="1298.5" r="16.67"/><circle cx="1396.7" cy="924.4" r="16.67"/><circle cx="610.1" cy="2155" r="16.67"/><circle cx="620" cy="1707.5" r="16.67"/><circle cx="601.6" cy="2168" r="16.67"/><circle cx="804.9" cy="1681" r="16.67"/><circle cx="1389" cy="1053.9" r="16.67"/><circle cx="1333.9" cy="969.2" r="16.67"/><circle cx="604.8" cy="2161.4" r="16.67"/><circle cx="1321.8" cy="873.6" r="16.67"/><circle cx="1406.2" cy="985.1" r="16.67"/><circle cx="374.8" cy="2042.9" r="16.67"/><circle cx="557.9" cy="2167.4" r="16.67"/><circle cx="1142" cy="1229.2" r="16.67"/><circle cx="435.4" cy="1931.4" r="16.67"/><circle cx="903" cy="1326.8" r="16.67"/><circle cx="404.2" cy="2039.5" r="16.67"/><circle cx="623.7" cy="1702.8" r="16.67"/><circle cx="674.3" cy="1653.5" r="16.67"/><circle cx="530.8" cy="1784.3" r="16.67"/><circle cx="1145.5" cy="1025.9" r="16.67"/><circle cx="646.5" cy="2158.7" r="16.67"/><circle cx="962.5" cy="1170" r="16.67"/><circle cx="1313.9" cy="806.1" r="16.67"/><circle cx="1408.3" cy="992.4" r="16.67"/><circle cx="604.6" cy="2169.2" r="16.67"/><circle cx="1166.4" cy="1013.7" r="16.67"/><circle cx="774.5" cy="1549.7" r="16.67"/><circle cx="607.2" cy="2152" r="16.67"/><circle cx="593.7" cy="2166.8" r="16.67"/><circle cx="1127.4" cy="1271.1" r="16.67"/><circle cx="664.3" cy="1663.6" r="16.67"/><circle cx="1118.1" cy="1049.9" r="16.67"/><circle cx="466.4" cy="1892.4" r="16.67"/><circle cx="1327" cy="1021.3" r="16.67"/><circle cx="863.9" cy="1417.4" r="16.67"/><circle cx="1154.4" cy="1028.7" r="16.67"/><circle cx="1287.2" cy="941.9" r="16.67"/><circle cx="757.5" cy="1573.6" r="16.67"/><circle cx="670.5" cy="1655.4" r="16.67"/><circle cx="579.3" cy="2109.8" r="16.67"/><circle cx="1319.2" cy="869.6" r="16.67"/><circle cx="1258.9" cy="938.1" r="16.67"/><circle cx="1141.1" cy="1247.8" r="16.67"/><circle cx="373.1" cy="2062.3" r="16.67"/><circle cx="516.7" cy="2015.7" r="16.67"/><circle cx="1174.1" cy="997" r="16.67"/><circle cx="862.9" cy="1618.8" r="16.67"/><circle cx="837.9" cy="1660.3" r="16.67"/><circle cx="1389" cy="1071.2" r="16.67"/><circle cx="381.7" cy="2055.4" r="16.67"/><circle cx="1404.8" cy="941.9" r="16.67"/><circle cx="671.1" cy="1650.9" r="16.67"/><circle cx="1242.6" cy="858.8" r="16.67"/><circle cx="1068.7" cy="1319.8" r="16.67"/><circle cx="855.6" cy="1391.6" r="16.67"/><circle cx="465.7" cy="1847.2" r="16.67"/><circle cx="1243.7" cy="869.4" r="16.67"/><circle cx="1400.3" cy="984.7" r="16.67"/><circle cx="570.9" cy="2050.5" r="16.67"/><circle cx="1312.8" cy="943.4" r="16.67"/><circle cx="380.9" cy="2062.4" r="16.67"/><circle cx="1398.9" cy="907" r="16.67"/><circle cx="995.8" cy="1138.7" r="16.67"/><circle cx="474" cy="1847.6" r="16.67"/><circle cx="523.4" cy="1799.4" r="16.67"/><circle cx="566" cy="2122" r="16.67"/><circle cx="586.3" cy="2077.2" r="16.67"/><circle cx="592.9" cy="1736.2" r="16.67"/><circle cx="816.3" cy="1665.9" r="16.67"/><circle cx="1159.8" cy="1199.5" r="16.67"/><circle cx="1328.6" cy="808" r="16.67"/><circle cx="973.5" cy="1157.3" r="16.67"/><circle cx="1314.5" cy="817.3" r="16.67"/><circle cx="840.8" cy="1448.7" r="16.67"/><circle cx="662.8" cy="1662.3" r="16.67"/><circle cx="522.7" cy="1809.6" r="16.67"/><circle cx="1156.8" cy="1027.6" r="16.67"/><circle cx="558.8" cy="2046" r="16.67"/><circle cx="512.3" cy="2023.7" r="16.67"/><circle cx="1319" cy="830.6" r="16.67"/><circle cx="510.5" cy="1810.8" r="16.67"/><circle cx="392.7" cy="2040.8" r="16.67"/><circle cx="1294.6" cy="797.1" r="16.67"/><circle cx="838.1" cy="1469.6" r="16.67"/><circle cx="1407.2" cy="1027.1" r="16.67"/><circle cx="1404" cy="966.2" r="16.67"/><circle cx="1319" cy="814.6" r="16.67"/><circle cx="900" cy="1323" r="16.67"/><circle cx="900.6" cy="1303.7" r="16.67"/><circle cx="1365.7" cy="1078" r="16.67"/><circle cx="1289.2" cy="951.2" r="16.67"/><circle cx="904.6" cy="1316.5" r="16.67"/><circle cx="385.2" cy="2044.9" r="16.67"/><circle cx="447.9" cy="2006" r="16.67"/><circle cx="568.4" cy="2052.7" r="16.67"/><circle cx="1395" cy="965.6" r="16.67"/><circle cx="467.8" cy="1854.5" r="16.67"/><circle cx="961.9" cy="1172.2" r="16.67"/><circle cx="894.8" cy="1330.5" r="16.67"/><circle cx="400.6" cy="2018.2" r="16.67"/><circle cx="1241.8" cy="873" r="16.67"/><circle cx="855.9" cy="1416" r="16.67"/><circle cx="582.4" cy="2165.5" r="16.67"/><circle cx="580.9" cy="2068.4" r="16.67"/><circle cx="1175.4" cy="1202.8" r="16.67"/><circle cx="567.2" cy="2053.4" r="16.67"/><circle cx="456.6" cy="1874.5" r="16.67"/><circle cx="836.4" cy="1658" r="16.67"/><circle cx="687.6" cy="1650.8" r="16.67"/><circle cx="932.2" cy="1223.3" r="16.67"/><circle cx="1319.7" cy="962.1" r="16.67"/><circle cx="1322.8" cy="831.4" r="16.67"/><circle cx="1069.6" cy="1334.4" r="16.67"/><circle cx="598.6" cy="2170.1" r="16.67"/><circle cx="388.1" cy="2056.3" r="16.67"/><circle cx="538.4" cy="2154.8" r="16.67"/><circle cx="1148.6" cy="1042.6" r="16.67"/><circle cx="1012" cy="1094.7" r="16.67"/><circle cx="413.3" cy="2011.1" r="16.67"/><circle cx="1125.1" cy="1062.7" r="16.67"/><circle cx="1334.1" cy="1036.5" r="16.67"/><circle cx="425.4" cy="2033.9" r="16.67"/><circle cx="636.8" cy="2160.9" r="16.67"/><circle cx="1341.1" cy="1016.5" r="16.67"/><circle cx="534.2" cy="1794.9" r="16.67"/><circle cx="638.6" cy="1685.3" r="16.67"/><circle cx="856.8" cy="1616.9" r="16.67"/><circle cx="836.2" cy="1645.8" r="16.67"/><circle cx="506.1" cy="2015.3" r="16.67"/><circle cx="1124.7" cy="1049.7" r="16.67"/><circle cx="1410.9" cy="1010.1" r="16.67"/><circle cx="1113.6" cy="1048.5" r="16.67"/><circle cx="665.9" cy="1657.1" r="16.67"/><circle cx="1160.3" cy="1202" r="16.67"/><circle cx="1213.6" cy="1134.6" r="16.67"/><circle cx="1140.9" cy="1251.3" r="16.67"/><circle cx="362.7" cy="2078.3" r="16.67"/><circle cx="1323.3" cy="785.6" r="16.67"/><circle cx="815.8" cy="1682.9" r="16.67"/><circle cx="1115.3" cy="1281.1" r="16.67"/><circle cx="755.9" cy="1562.2" r="16.67"/><circle cx="565.6" cy="1765" r="16.67"/><circle cx="1104.6" cy="1067.3" r="16.67"/><circle cx="358.1" cy="2079.2" r="16.67"/><circle cx="733.8" cy="1600.7" r="16.67"/><circle cx="1334.9" cy="853.2" r="16.67"/><circle cx="1378.7" cy="1069.8" r="16.67"/><circle cx="1161.4" cy="1020.8" r="16.67"/><circle cx="1251.9" cy="843.1" r="16.67"/><circle cx="850.2" cy="1653.6" r="16.67"/><circle cx="1277.1" cy="944.9" r="16.67"/><circle cx="1359.4" cy="1069.4" r="16.67"/><circle cx="504.1" cy="1816.8" r="16.67"/><circle cx="1367.6" cy="1069.9" r="16.67"/><circle cx="842.6" cy="1469.3" r="16.67"/><circle cx="801.3" cy="1510.8" r="16.67"/><circle cx="1138" cy="1279" r="16.67"/><circle cx="834.6" cy="1485.5" r="16.67"/><circle cx="561" cy="2158.4" r="16.67"/><circle cx="854.6" cy="1427.5" r="16.67"/><circle cx="1162.1" cy="1220.4" r="16.67"/><circle cx="1100.4" cy="1066.9" r="16.67"/><circle cx="1300.5" cy="950.3" r="16.67"/><circle cx="1152.7" cy="1031" r="16.67"/><circle cx="1354.1" cy="1064.4" r="16.67"/><circle cx="1094.8" cy="1297.4" r="16.67"/><circle cx="1126.6" cy="1268.5" r="16.67"/><circle cx="561.9" cy="2042.5" r="16.67"/><circle cx="792.1" cy="1541.3" r="16.67"/><circle cx="1233.4" cy="867.9" r="16.67"/><circle cx="865.4" cy="1381.9" r="16.67"/><circle cx="1094.9" cy="1290.7" r="16.67"/><circle cx="846.7" cy="1458.6" r="16.67"/><circle cx="1142.5" cy="1259.3" r="16.67"/><circle cx="516.5" cy="1815.1" r="16.67"/><circle cx="407.4" cy="1972.6" r="16.67"/><circle cx="1103.8" cy="1299.1" r="16.67"/><circle cx="1375.6" cy="1068.6" r="16.67"/><circle cx="579.8" cy="1734.7" r="16.67"/><circle cx="442.6" cy="2018.2" r="16.67"/><circle cx="772.5" cy="1556.2" r="16.67"/><circle cx="1276.2" cy="948.3" r="16.67"/><circle cx="1314.9" cy="1057.3" r="16.67"/><circle cx="1167" cy="991.1" r="16.67"/><circle cx="1164.7" cy="1191.4" r="16.67"/><circle cx="1151.2" cy="1027.5" r="16.67"/><circle cx="626.7" cy="2155.8" r="16.67"/><circle cx="569.7" cy="2105" r="16.67"/><circle cx="556.3" cy="2153.3" r="16.67"/><circle cx="547.1" cy="2045.8" r="16.67"/><circle cx="546" cy="2045.5" r="16.67"/><circle cx="355" cy="2064.9" r="16.67"/><circle cx="679.7" cy="1659.4" r="16.67"/><circle cx="378.5" cy="2067.8" r="16.67"/><circle cx="862" cy="1611.7" r="16.67"/><circle cx="1318.4" cy="1049.7" r="16.67"/><circle cx="536.3" cy="2031.1" r="16.67"/><circle cx="690.2" cy="1636.3" r="16.67"/><circle cx="728.8" cy="1614.2" r="16.67"/><circle cx="1399.8" cy="1031.2" r="16.67"/><circle cx="860.7" cy="1419.9" r="16.67"/><circle cx="529.3" cy="1794.2" r="16.67"/><circle cx="536.3" cy="2031.3" r="16.67"/><circle cx="1396.2" cy="1047.3" r="16.67"/><circle cx="1395.2" cy="924" r="16.67"/><circle cx="868.2" cy="1620.9" r="16.67"/><circle cx="853.3" cy="1424.2" r="16.67"/><circle cx="559.6" cy="2046.8" r="16.67"/><circle cx="1318.1" cy="837.4" r="16.67"/><circle cx="520.2" cy="1803.1" r="16.67"/><circle cx="855" cy="1416.7" r="16.67"/><circle cx="1161.9" cy="1004.9" r="16.67"/><circle cx="780.6" cy="1555.4" r="16.67"/><circle cx="538.7" cy="1794.2" r="16.67"/><circle cx="552.7" cy="2153.4" r="16.67"/><circle cx="870.6" cy="1347.7" r="16.67"/><circle cx="827.6" cy="1678.2" r="16.67"/><circle cx="1138.2" cy="1051.3" r="16.67"/><circle cx="553.3" cy="2049.3" r="16.67"/><circle cx="497.4" cy="2013.9" r="16.67"/><circle cx="1393.1" cy="942.8" r="16.67"/><circle cx="553.6" cy="1772.6" r="16.67"/><circle cx="770" cy="1564.8" r="16.67"/><circle cx="847.8" cy="1408.4" r="16.67"/><circle cx="1138.7" cy="1230.8" r="16.67"/><circle cx="1130.4" cy="1280.2" r="16.67"/><circle cx="528.3" cy="2154" r="16.67"/><circle cx="996.4" cy="1145.8" r="16.67"/><circle cx="1160.1" cy="1030.2" r="16.67"/><circle cx="807.3" cy="1524.9" r="16.67"/><circle cx="512" cy="1799.1" r="16.67"/><circle cx="465.6" cy="1852" r="16.67"/><circle cx="500.9" cy="1830" r="16.67"/><circle cx="1317.6" cy="959.3" r="16.67"/><circle cx="1324.3" cy="830.5" r="16.67"/><circle cx="534.4" cy="2138.4" r="16.67"/><circle cx="864.3" cy="1630.6" r="16.67"/><circle cx="759.5" cy="1576.4" r="16.67"/><circle cx="519.1" cy="1816.9" r="16.67"/><circle cx="1332.1" cy="825.4" r="16.67"/><circle cx="1205.3" cy="952.2" r="16.67"/><circle cx="799.5" cy="1709.4" r="16.67"/><circle cx="1392.4" cy="948.9" r="16.67"/><circle cx="1407.4" cy="980.7" r="16.67"/><circle cx="1323.6" cy="839.9" r="16.67"/><circle cx="473.7" cy="2002.1" r="16.67"/><circle cx="537.1" cy="2163.9" r="16.67"/><circle cx="1189.5" cy="966.4" r="16.67"/><circle cx="671" cy="1658.4" r="16.67"/><circle cx="659.1" cy="1680.2" r="16.67"/><circle cx="1331.7" cy="997.3" r="16.67"/><circle cx="624.4" cy="2160.5" r="16.67"/><circle cx="1325.1" cy="1040.8" r="16.67"/><circle cx="1326.7" cy="1021.4" r="16.67"/><circle cx="407.2" cy="2045.4" r="16.67"/><circle cx="1328.4" cy="968.5" r="16.67"/><circle cx="1398" cy="901.2" r="16.67"/><circle cx="461.6" cy="2004.4" r="16.67"/><circle cx="1344.4" cy="1064.1" r="16.67"/><circle cx="623.8" cy="1715.8" r="16.67"/><circle cx="1329.8" cy="840.7" r="16.67"/><circle cx="793.3" cy="1713.7" r="16.67"/><circle cx="407.4" cy="2024.4" r="16.67"/><circle cx="1281.5" cy="807.4" r="16.67"/><circle cx="837.7" cy="1472.7" r="16.67"/><circle cx="845.4" cy="1456.6" r="16.67"/><circle cx="532.2" cy="1805.9" r="16.67"/><circle cx="466" cy="1856.3" r="16.67"/><circle cx="793.1" cy="1718.3" r="16.67"/><circle cx="1159.9" cy="1029.4" r="16.67"/><circle cx="358.2" cy="2063.3" r="16.67"/><circle cx="1304.7" cy="944.1" r="16.67"/><circle cx="881.9" cy="1325.8" r="16.67"/><circle cx="749.8" cy="1571.8" r="16.67"/><circle cx="523.5" cy="2148.8" r="16.67"/><circle cx="417.5" cy="1948.7" r="16.67"/><circle cx="797.6" cy="1512.9" r="16.67"/><circle cx="567.5" cy="1744.3" r="16.67"/><circle cx="785.4" cy="1527.6" r="16.67"/><circle cx="1325" cy="862.3" r="16.67"/><circle cx="809.8" cy="1506.3" r="16.67"/><circle cx="681.8" cy="1654.2" r="16.67"/><circle cx="433.1" cy="1934.5" r="16.67"/><circle cx="465.9" cy="1879.6" r="16.67"/><circle cx="409.5" cy="1959" r="16.67"/><circle cx="812.4" cy="1694.6" r="16.67"/><circle cx="1327.7" cy="981.1" r="16.67"/><circle cx="1132.5" cy="1042.1" r="16.67"/><circle cx="1153" cy="1233.1" r="16.67"/><circle cx="861.9" cy="1386.6" r="16.67"/><circle cx="456.4" cy="1858.6" r="16.67"/><circle cx="1212.5" cy="931.1" r="16.67"/><circle cx="1421.4" cy="553.4" r="16.67"/><circle cx="1449.8" cy="578.1" r="16.67"/><circle cx="1426.9" cy="555.2" r="16.67"/><circle cx="1415.8" cy="555.4" r="16.67"/><circle cx="1449.5" cy="572.8" r="16.67"/><circle cx="1455.7" cy="547.9" r="16.67"/><circle cx="1458.1" cy="560.7" r="16.67"/><circle cx="1450.3" cy="491" r="16.67"/><circle cx="1451.5" cy="468.2" r="16.67"/><circle cx="1442" cy="509.5" r="16.67"/><circle cx="1427.2" cy="519" r="16.67"/><circle cx="1456.5" cy="579.3" r="16.67"/><circle cx="1414.9" cy="570.2" r="16.67"/><circle cx="1430.2" cy="589.9" r="16.67"/><circle cx="1434.8" cy="501.8" r="16.67"/><circle cx="1408.3" cy="591.2" r="16.67"/></g>
<path fill="#55A868" d="M1444.3,518.6L1447.2,538.8L1450.4,548L1452.3,551.3L1454.8,554.2L1457.8,556.5L1461.2,558.2L1464.9,559.2L1468.6,559.5L1472.4,559L1476,557.8L1479.3,555.9L1482.2,553.4L1485.5,548.8L1486.8,545.2L1487.5,541.5L1487,535.8L1484.6,528.1L1483.1,518.3L1483.6,504.7L1486.3,487.5L1485.9,470.4L1487.5,453.7L1488,435.2L1486.8,429.7L1484,424.7L1479.9,420.8L1474.8,418.2L1471.1,417.3L1467.3,417.2L1463.5,417.8L1460,419.2L1456.8,421.2L1454,423.8L1451.8,426.9L1450.2,430.4L1449.4,434.1L1448.7,451.9L1447.2,467.8L1447.5,485L1444.9,502ZM1326.4,820.6L1327.1,825.7L1328.3,828.9L1329.6,836L1328.2,843L1329.4,849.4L1328.4,855.4L1328.8,863.5L1330.8,869.8L1329.3,878.2L1330.8,886.8L1328.1,892.6L1327.6,900.2L1329.7,906.7L1329.8,909.8L1331.2,914.8L1331.5,922.7L1333.2,928.3L1333.8,932.8L1337.2,939.6L1342.9,944.6L1350,947L1357.6,946.5L1364.4,943.2L1369.9,938L1372.7,933.9L1376.7,924.3L1378.8,920.9L1383.6,918.2L1388.6,912.5L1390.5,907.8L1391,900.7L1391.9,898.1L1396.1,891.8L1397.4,886.9L1397.4,881.9L1396.1,877L1393.7,872.8L1391.9,867.2L1384.2,851.8L1386,845.9L1386,840.8L1384.7,835.9L1383.3,833.2L1383.4,827.6L1382.2,823.2L1384.8,812.2L1384.9,808.6L1384.3,805L1382.2,800.1L1378.6,796L1374,793.2L1364.8,790.1L1357.2,789.6L1351.9,791.1L1344.7,792.2L1338.6,795.4L1334,800.9L1332.2,804L1330.9,808.3L1327.9,813.2ZM1423.1,991.2L1426.4,995.8L1429.3,998.3L1432.6,1000.2L1438,1001.7L1443.7,1001.6L1449.2,999.9L1453.8,996.6L1457.3,992.1L1459.4,986.8L1459.9,981.1L1456.8,934.4L1455.6,930.8L1452.4,926L1448,922.4L1442.8,920.2L1439,919.6L1435.2,919.8L1431.5,920.7L1428.1,922.3L1425,924.6L1422.5,927.4L1420.5,930.6L1419.2,934.2L1418.6,939.9L1419.6,962.4L1421.4,985.7ZM1188.9,994.7L1186.4,997L1179.8,999.3L1175.8,1002.4L1172.7,1006.4L1171.3,1009.7L1167.1,1014.2L1165.6,1017.2L1163.7,1023.1L1159.4,1028.3L1157.4,1032.9L1156.8,1038L1157.4,1043L1159.9,1048.4L1156.5,1053.7L1155.1,1061.1L1155.7,1066.1L1158.1,1071.4L1160.2,1079.1L1160.2,1109.6L1159,1112.7L1158.3,1117.8L1159,1122.8L1160.2,1126L1160.2,1134.8L1158.2,1139.5L1157.6,1144.5L1158.2,1149.5L1160.2,1154.3L1160.5,1161.5L1165.6,1178.8L1167.9,1183.6L1170.2,1186.4L1174.5,1189.5L1177.8,1190.9L1181.3,1191.5L1184.8,1191.4L1188.3,1190.7L1191.6,1189.3L1194.5,1187.2L1198,1183.2L1202.6,1173.9L1207.9,1170.2L1215.1,1159.8L1217.3,1154.3L1218,1145.9L1221.3,1142.6L1223.8,1138.2L1225.1,1133.3L1224.8,1127L1234,1112.1L1236,1105L1236.1,1100.3L1238.8,1095.5L1240.9,1087.1L1243.3,1084.5L1245.8,1080.1L1248.6,1071.5L1249.1,1067.5L1253.8,1062.7L1257.1,1055.9L1257.8,1050.9L1256.8,1044.8L1259.4,1039.1L1261.8,1027.9L1263.7,1023.3L1264.4,1018.3L1263.7,1013.2L1262.2,1009.3L1263,1003.1L1263,998L1260.6,990.8L1259.4,984.4L1259.4,974.6L1262.4,959.9L1262.4,954.8L1261.4,951L1263.5,944.5L1263.5,939.5L1266.8,932.7L1267.5,927.7L1266.8,922.7L1265.4,919.1L1266.2,913.1L1265.5,908.1L1262.2,901.3L1260.8,895.3L1257.9,890.5L1257,886.8L1254.6,882.2L1251,878.5L1247.5,876.4L1242.8,874.8L1239.5,874.5L1227.8,874.6L1223,875.7L1217.1,879.4L1207.1,891.9L1205.1,896.6L1204.5,901.6L1205.1,906.6L1207.8,912.4L1207.2,915L1207.2,920L1205,925.1L1204.3,930.1L1206.1,940.2L1205.8,962.4L1204.5,969.2L1205.8,976L1205.8,979.4L1202.1,982.2L1199.1,986.2L1196,987.6L1192,990.6ZM891.1,1329.5L892.5,1336.9L897.4,1344.8L897.4,1364.9L895.2,1375.4L895.5,1382L894.9,1386.7L895.8,1392.4L895.5,1399L896.7,1403.6L893.7,1409.9L893,1415L893.7,1420L896.9,1426.6L895.6,1429.1L894.3,1434L894.3,1439.1L895.1,1442.6L893.2,1447.1L889.4,1451.4L886.4,1451.9L881.8,1453.8L876.1,1458.8L872.7,1465.6L872.1,1471.5L870.3,1473.9L867,1476.5L863.9,1480.5L862,1485.2L861.3,1490.2L861.5,1529.4L856.4,1530.1L851.7,1532L847.7,1535.1L845.1,1538.4L839.2,1542.3L836.7,1544.8L834.7,1547.8L833.4,1551.2L831.1,1559.3L830.5,1565.5L827.8,1571L826.5,1575.9L827,1583.4L830.3,1590.2L833.9,1593.8L839.6,1598.1L846.1,1600.4L853,1600.1L858.4,1597.8L861.4,1597.7L866.2,1596.3L870.6,1593.8L875.4,1588.5L882.2,1585.3L898.5,1575.1L917.4,1570.6L944.3,1562.4L948.4,1559.5L962.5,1543.5L971.8,1537.2L977.7,1529.1L979.7,1524.5L980.3,1519.4L979.5,1512.9L981.8,1507.6L982.5,1502.6L981.7,1493L986.3,1477.9L991.4,1473.3L993.9,1468.9L995,1465.5L1001.4,1458.2L1005.8,1449.4L1006.9,1445.6L1009.2,1441.9L1011.5,1440L1014.6,1436L1016.8,1429.7L1026.3,1414.6L1027.8,1412.5L1033.3,1408.7L1036.4,1404.7L1041,1396.5L1042.1,1392.3L1047.6,1384.4L1049.5,1380.6L1053.1,1379L1057.1,1376L1061.3,1369.7L1062.8,1362.2L1061.5,1355.1L1065,1345.8L1065.7,1340.6L1067.7,1338.4L1070.2,1334L1073,1321.3L1073,1316.2L1071.5,1310.8L1075,1304.7L1076.3,1299.8L1075.2,1283.7L1075.8,1280.6L1078.7,1276.8L1080.7,1272.1L1081.2,1264.6L1084.2,1258.2L1084.8,1251.6L1089.1,1246.5L1091.5,1239.3L1091.5,1234.2L1091,1231.5L1093.7,1223.9L1097.4,1204.1L1097.5,1182.4L1100.2,1176.6L1100.8,1171.2L1102.6,1165.4L1102.6,1161.3L1103.6,1159.2L1111.2,1155.2L1115.1,1151.8L1117.1,1149L1120.1,1142.6L1121.5,1137.5L1121,1130.5L1115.6,1119L1115.9,1112.5L1114.4,1107.2L1114.3,1103.2L1113,1097.7L1114,1091.6L1113.4,1086.6L1110,1079.8L1107.7,1077.3L1104.9,1072.1L1101.3,1068.6L1096.9,1066L1092,1064.7L1081.8,1065.4L1078.3,1064.5L1074.4,1064.5L1069.8,1062.8L1065.8,1059.8L1061.3,1057.7L1058.4,1054.9L1054,1052.3L1046.5,1050.9L1041.5,1051.5L1036.8,1053.5L1032.9,1056.4L1030.2,1057.3L1025.8,1059.9L1020.4,1064.5L1014.3,1073.7L1012.7,1078.2L1008.4,1083.2L1006.5,1087.9L1006,1091.3L999.9,1093.5L995.8,1096.6L992.8,1100.6L990.8,1105.3L989.9,1115.2L991,1120.3L992.5,1123.5L1000.5,1134.5L995,1135.9L988.7,1140.1L985.6,1144.1L983.4,1150.3L977.2,1151.7L970.9,1155.9L967.8,1159.9L966.4,1163L962.5,1165.5L959,1169L935,1201.5L926.8,1221.7L919.6,1243.4L916.6,1246.4L914,1250.8L912.6,1258.2L913.2,1263.3L914.4,1266.4L913.8,1269.4L909.9,1273.2L907.3,1277.6L906,1282.5L906.2,1288.6L899.1,1313.8L896.7,1315.8L893.7,1319.8L891.7,1324.5ZM688.1,1642.3L686.8,1647.2L686.7,1650.7L685.7,1653.4L682.7,1655.8L679.6,1659.8L677.7,1664.5L677.1,1668L676,1668L676,2180L692.3,2180L697,2182.8L704.5,2184.3L711.9,2182.8L720.8,2178.5L731.1,2178.2L737.5,2175.5L741.4,2172L743.8,2168.2L747.3,2164.7L749.8,2160.3L751.2,2155.4L750.7,2147.8L747.1,2138.9L747.8,2133.8L747.4,2127.5L745.7,2121.8L747.2,2096.3L749,2093.1L750.3,2087.1L752.9,2081.5L753.5,2076.5L752.1,2069.1L749.2,2064.3L750.1,2055.5L754,2050.8L756.5,2043.6L756.5,2038.6L754.5,2032.3L758.7,2025.9L760.2,2018.5L758.7,2011.1L755.1,2005.5L755.2,2004.2L757,1999.9L757.6,1993.1L761.2,1987.5L762.7,1980.1L762,1975.1L760.9,1972L762.5,1966.5L762.5,1961.4L761.2,1956.5L757.8,1951.2L756.9,1946.1L757.2,1943.3L760,1938.6L761.3,1933.7L761.3,1928.6L759.2,1922.1L760.3,1917.8L762.9,1912.1L763.6,1907.1L767,1902.5L769.4,1895.3L769.4,1890.3L768,1885.2L768.6,1882L772.8,1875.8L774.1,1870.9L774.6,1866L778.1,1861.7L780.5,1854.5L780,1847L778.1,1842.3L776.1,1839.5L776.4,1836.1L777.9,1832.5L778.5,1827L779.8,1822.2L779.8,1817.2L778.8,1813.3L781.1,1807.8L781.8,1802.8L781.1,1797.8L779.2,1793.2L779.7,1785.9L778,1779.1L781.2,1775L783.6,1767.8L783,1752.6L785,1749.1L788.5,1744.7L790.4,1740L791.1,1735L790.8,1731.7L791.3,1722.5L792.6,1719.2L793.2,1714.1L792.6,1709.1L790.6,1704.4L785.6,1698.7L776.5,1685.8L770.7,1663.1L766.2,1654.3L761.2,1648.6L752.5,1642.4L741.7,1631.6L739.7,1628.4L736.1,1624.8L735.9,1622.5L738.5,1603L734.8,1586.5L732.3,1580.4L729.7,1576.9L726.4,1573.9L722.6,1571.7L718.5,1570.2L714.1,1569.5L709.7,1569.7L705.4,1570.8L701.4,1572.7L697.9,1575.3L694.9,1578.6L692.7,1582.4L691.2,1586.5L690.5,1590.9L690.7,1595.3L692.5,1602.9L689.2,1606.4L687.3,1609.3L685.2,1615.9L685.9,1622.9L687.2,1626.1L689.5,1629.5L690.3,1638.4ZM594.4,1795.3L590.7,1796L587.2,1797.5L584,1799.6L581.3,1802.3L579.2,1805.5L577.7,1809L577,1812.7L577,1816.5L577.7,1820.2L579.2,1823.7L581.3,1826.9L584,1829.6L587.2,1831.7L590.7,1833.2L594.4,1833.9L598.2,1833.9L601.9,1833.2L605.4,1831.7L608.6,1829.6L611.3,1826.9L613.4,1823.7L614.9,1820.2L615.6,1816.5L615.6,1812.7L614.9,1809L613.4,1805.5L611.3,1802.3L608.6,1799.6L605.4,1797.5L601.9,1796L598.2,1795.3Z"/>
<g class="mg"><circle cx="798.7" cy="1848.3" r="16.67"/><circle cx="786.3" cy="1788.5" r="16.67"/><circle cx="770" cy="1904.3" r="16.67"/><circle cx="759.1" cy="1926.5" r="16.67"/><circle cx="772.2" cy="1876.5" r="16.67"/><circle cx="778.7" cy="1861.3" r="16.67"/><circle cx="759.1" cy="2084.1" r="16.67"/><circle cx="767.8" cy="2115.7" r="16.67"/><circle cx="754.8" cy="2117.8" r="16.67"/><circle cx="748.3" cy="2067.8" r="16.67"/><circle cx="785.2" cy="1811.3" r="16.67"/><circle cx="764.8" cy="1570" r="16.67"/><circle cx="788.7" cy="1589.6" r="16.67"/><circle cx="732.2" cy="1583" r="16.67"/><circle cx="745.2" cy="1628.7" r="16.67"/><circle cx="777.8" cy="1663.5" r="16.67"/><circle cx="793" cy="1698.3" r="16.67"/><circle cx="714.8" cy="1580.9" r="16.67"/><circle cx="690.9" cy="1611.3" r="16.67"/><circle cx="684.3" cy="1659.1" r="16.67"/><circle cx="1001.3" cy="1480.9" r="16.67"/><circle cx="1001.3" cy="1480.9" r="16.67"/><circle cx="940.4" cy="1592.2" r="16.67"/><circle cx="913.3" cy="1609.1" r="16.67"/><circle cx="961.1" cy="1632.4" r="16.67"/><circle cx="951.3" cy="1552.6" r="16.67"/><circle cx="936.1" cy="1570" r="16.67"/><circle cx="881.7" cy="1454.8" r="16.67"/><circle cx="1049.1" cy="1385.2" r="16.67"/><circle cx="1020.9" cy="1422.2" r="16.67"/><circle cx="803.5" cy="1717.8" r="16.67"/><circle cx="1102.4" cy="949.3" r="16.67"/><circle cx="1032.2" cy="1015.7" r="16.67"/><circle cx="1066.1" cy="1012.6" r="16.67"/><circle cx="1066.1" cy="1012.6" r="16.67"/><circle cx="1069.8" cy="1022.8" r="16.67"/><circle cx="1113.3" cy="1030" r="16.67"/><circle cx="1041.5" cy="1046.7" r="16.67"/><circle cx="1103.5" cy="1052.2" r="16.67"/><circle cx="967.6" cy="1129.3" r="16.67"/><circle cx="936.1" cy="1168.5" r="16.67"/><circle cx="933.9" cy="1182.6" r="16.67"/><circle cx="916.5" cy="1245.7" r="16.67"/><circle cx="1133.9" cy="1119.6" r="16.67"/><circle cx="1136.1" cy="1145.7" r="16.67"/><circle cx="1105.7" cy="1191.3" r="16.67"/><circle cx="1094.8" cy="1230.4" r="16.67"/><circle cx="1083.9" cy="1282.6" r="16.67"/><circle cx="1157.8" cy="1056.5" r="16.67"/><circle cx="1168.7" cy="1004.3" r="16.67"/><circle cx="1168.7" cy="1180.4" r="16.67"/><circle cx="1173" cy="1200" r="16.67"/><circle cx="1060" cy="1058.7" r="16.67"/><circle cx="1029.6" cy="1056.5" r="16.67"/><circle cx="990.4" cy="1143.5" r="16.67"/><circle cx="929.6" cy="1221.7" r="16.67"/><circle cx="1230.4" cy="1154.3" r="16.67"/><circle cx="1210.9" cy="1178.3" r="16.67"/><circle cx="1191.3" cy="1191.3" r="16.67"/><circle cx="1263" cy="950" r="16.67"/><circle cx="1443.5" cy="906.5" r="16.67"/><circle cx="1447.8" cy="950" r="16.67"/><circle cx="1352.2" cy="952.2" r="16.67"/><circle cx="1197.8" cy="997.8" r="16.67"/><circle cx="1182.6" cy="1002.2" r="16.67"/><circle cx="1354.3" cy="751.7" r="16.67"/><circle cx="1354.3" cy="751.7" r="16.67"/><circle cx="1360.9" cy="747.4" r="16.67"/><circle cx="1373.9" cy="782.2" r="16.67"/><circle cx="1373.9" cy="782.2" r="16.67"/><circle cx="1393.5" cy="812.6" r="16.67"/><circle cx="1287" cy="830" r="16.67"/><circle cx="1234.8" cy="886.5" r="16.67"/><circle cx="1441.3" cy="893" r="16.67"/><circle cx="1345.7" cy="760.4" r="16.67"/><circle cx="1463.1" cy="587.3" r="16.67"/><circle cx="1468.9" cy="588.9" r="16.67"/><circle cx="1488.8" cy="530.1" r="16.67"/><circle cx="1482.2" cy="478" r="16.67"/><circle cx="1455.7" cy="547.5" r="16.67"/><circle cx="744.8" cy="1897.7" r="16.67"/><circle cx="732" cy="2073.8" r="16.67"/><circle cx="769.9" cy="1755.4" r="16.67"/><circle cx="731.5" cy="2103.3" r="16.67"/><circle cx="764.2" cy="1676.6" r="16.67"/><circle cx="762.8" cy="1768.3" r="16.67"/><circle cx="711.6" cy="1604.3" r="16.67"/><circle cx="768" cy="1765.8" r="16.67"/><circle cx="733.8" cy="2125.6" r="16.67"/><circle cx="759.8" cy="1673.3" r="16.67"/><circle cx="703.3" cy="1865.2" r="16.67"/><circle cx="755.3" cy="1811.1" r="16.67"/><circle cx="737.5" cy="2022.6" r="16.67"/><circle cx="708.9" cy="1663.3" r="16.67"/><circle cx="776.1" cy="1737.9" r="16.67"/><circle cx="710.6" cy="1625.3" r="16.67"/><circle cx="772.6" cy="1751.8" r="16.67"/><circle cx="748.2" cy="1866.4" r="16.67"/><circle cx="735.7" cy="2027.9" r="16.67"/><circle cx="752.3" cy="1826.5" r="16.67"/><circle cx="756.2" cy="1843.9" r="16.67"/><circle cx="736.4" cy="1972.4" r="16.67"/><circle cx="759.9" cy="1816.6" r="16.67"/><circle cx="727.6" cy="2064.5" r="16.67"/><circle cx="771.3" cy="1733.6" r="16.67"/><circle cx="745.7" cy="1952.1" r="16.67"/><circle cx="760.5" cy="1670.1" r="16.67"/><circle cx="754.3" cy="1823.4" r="16.67"/><circle cx="708" cy="1640.8" r="16.67"/><circle cx="767.1" cy="1767" r="16.67"/><circle cx="710.2" cy="1614.9" r="16.67"/><circle cx="703.2" cy="1890.6" r="16.67"/><circle cx="768" cy="1777.7" r="16.67"/><circle cx="746.8" cy="1880.5" r="16.67"/><circle cx="729.8" cy="2110.4" r="16.67"/><circle cx="776.8" cy="1710.7" r="16.67"/><circle cx="728.8" cy="2061.2" r="16.67"/><circle cx="759.4" cy="1792.2" r="16.67"/><circle cx="746.1" cy="1973.6" r="16.67"/><circle cx="705.4" cy="1614.2" r="16.67"/><circle cx="732" cy="2035.1" r="16.67"/><circle cx="727.2" cy="2114.8" r="16.67"/><circle cx="723.6" cy="1624.6" r="16.67"/><circle cx="775" cy="1722" r="16.67"/><circle cx="758.7" cy="1872.9" r="16.67"/><circle cx="739.6" cy="2014.9" r="16.67"/><circle cx="737.9" cy="2038.4" r="16.67"/><circle cx="746" cy="1868.9" r="16.67"/><circle cx="748" cy="1871.7" r="16.67"/><circle cx="732.9" cy="1927.6" r="16.67"/><circle cx="702.8" cy="1805.7" r="16.67"/><circle cx="731.5" cy="2028.9" r="16.67"/><circle cx="727.3" cy="2122.9" r="16.67"/><circle cx="706.5" cy="1637" r="16.67"/><circle cx="733.7" cy="2146" r="16.67"/><circle cx="727.3" cy="2061.9" r="16.67"/><circle cx="763" cy="1804.7" r="16.67"/><circle cx="743.1" cy="1936.6" r="16.67"/><circle cx="744.3" cy="1946.2" r="16.67"/><circle cx="732.8" cy="2156.8" r="16.67"/><circle cx="728.2" cy="2159.3" r="16.67"/><circle cx="1082.2" cy="1145.4" r="16.67"/><circle cx="984.1" cy="1167.9" r="16.67"/><circle cx="1018.6" cy="1128.4" r="16.67"/><circle cx="1058.9" cy="1074.4" r="16.67"/><circle cx="1030.2" cy="1389.8" r="16.67"/><circle cx="841.6" cy="1577.8" r="16.67"/><circle cx="871.7" cy="1552.4" r="16.67"/><circle cx="855.2" cy="1566.6" r="16.67"/><circle cx="1087.4" cy="1093.5" r="16.67"/><circle cx="1101.1" cy="1120.7" r="16.67"/><circle cx="935.7" cy="1252.4" r="16.67"/><circle cx="1060.8" cy="1247.7" r="16.67"/><circle cx="1077.7" cy="1174.2" r="16.67"/><circle cx="1006.1" cy="1421.6" r="16.67"/><circle cx="1052.9" cy="1074.8" r="16.67"/><circle cx="1008" cy="1417.6" r="16.67"/><circle cx="1001" cy="1414.7" r="16.67"/><circle cx="1016.8" cy="1103.8" r="16.67"/><circle cx="856.1" cy="1549.1" r="16.67"/><circle cx="871.6" cy="1535.7" r="16.67"/><circle cx="927.8" cy="1268.8" r="16.67"/><circle cx="918.6" cy="1547" r="16.67"/><circle cx="865.3" cy="1580.6" r="16.67"/><circle cx="929.4" cy="1268.4" r="16.67"/><circle cx="1044.4" cy="1344" r="16.67"/><circle cx="984" cy="1453" r="16.67"/><circle cx="850.5" cy="1572.7" r="16.67"/><circle cx="896.2" cy="1552" r="16.67"/><circle cx="1077.8" cy="1235.7" r="16.67"/><circle cx="915.6" cy="1369.5" r="16.67"/><circle cx="953.7" cy="1518.3" r="16.67"/><circle cx="979.2" cy="1464.5" r="16.67"/><circle cx="1103.8" cy="1097.9" r="16.67"/><circle cx="874.3" cy="1490" r="16.67"/><circle cx="1099.2" cy="1092.1" r="16.67"/><circle cx="957.6" cy="1489.5" r="16.67"/><circle cx="1015.4" cy="1108.7" r="16.67"/><circle cx="1009.4" cy="1401.1" r="16.67"/><circle cx="875.6" cy="1577" r="16.67"/><circle cx="927" cy="1252.9" r="16.67"/><circle cx="850.4" cy="1559.1" r="16.67"/><circle cx="929.7" cy="1282" r="16.67"/><circle cx="909" cy="1378.8" r="16.67"/><circle cx="958.1" cy="1482.4" r="16.67"/><circle cx="1017.4" cy="1399.6" r="16.67"/><circle cx="1071.5" cy="1203.2" r="16.67"/><circle cx="909.9" cy="1401.9" r="16.67"/><circle cx="1088.9" cy="1110" r="16.67"/><circle cx="896.7" cy="1468.6" r="16.67"/><circle cx="929.1" cy="1546" r="16.67"/><circle cx="987" cy="1162.2" r="16.67"/><circle cx="1090.6" cy="1082.6" r="16.67"/><circle cx="1006.7" cy="1405" r="16.67"/><circle cx="885.3" cy="1486.3" r="16.67"/><circle cx="961.6" cy="1522" r="16.67"/><circle cx="958.3" cy="1492.4" r="16.67"/><circle cx="1099" cy="1118.1" r="16.67"/><circle cx="977.5" cy="1172.4" r="16.67"/><circle cx="1096.4" cy="1134.9" r="16.67"/><circle cx="938.4" cy="1273.4" r="16.67"/><circle cx="1094.1" cy="1100.7" r="16.67"/><circle cx="946.7" cy="1209" r="16.67"/><circle cx="1036.6" cy="1373.1" r="16.67"/><circle cx="941.9" cy="1232.8" r="16.67"/><circle cx="975.5" cy="1477.4" r="16.67"/><circle cx="1020.7" cy="1149.6" r="16.67"/><circle cx="1041.2" cy="1376.9" r="16.67"/><circle cx="1025.4" cy="1382.7" r="16.67"/><circle cx="909.3" cy="1349" r="16.67"/><circle cx="979.8" cy="1170.3" r="16.67"/><circle cx="887.7" cy="1553.3" r="16.67"/><circle cx="849.6" cy="1550" r="16.67"/><circle cx="887" cy="1552.8" r="16.67"/><circle cx="1041.3" cy="1374.3" r="16.67"/><circle cx="1022.7" cy="1394.7" r="16.67"/><circle cx="876.5" cy="1514.6" r="16.67"/><circle cx="882.9" cy="1500.7" r="16.67"/><circle cx="968.2" cy="1457.8" r="16.67"/><circle cx="924.5" cy="1312.2" r="16.67"/><circle cx="855.9" cy="1549.8" r="16.67"/><circle cx="1002.3" cy="1430" r="16.67"/><circle cx="981.7" cy="1452.7" r="16.67"/><circle cx="965.6" cy="1519" r="16.67"/><circle cx="891.3" cy="1464.9" r="16.67"/><circle cx="854.9" cy="1586.3" r="16.67"/><circle cx="1018.4" cy="1099.6" r="16.67"/><circle cx="1068.5" cy="1080.6" r="16.67"/><circle cx="1012.2" cy="1138.9" r="16.67"/><circle cx="931.9" cy="1540.5" r="16.67"/><circle cx="1030.8" cy="1092" r="16.67"/><circle cx="1071.8" cy="1181.7" r="16.67"/><circle cx="929.5" cy="1298.9" r="16.67"/><circle cx="909.5" cy="1401" r="16.67"/><circle cx="1091" cy="1117" r="16.67"/><circle cx="971.1" cy="1190.2" r="16.67"/><circle cx="1088.7" cy="1140.1" r="16.67"/><circle cx="851.7" cy="1553.8" r="16.67"/><circle cx="1063.8" cy="1233.8" r="16.67"/><circle cx="923.4" cy="1276.4" r="16.67"/><circle cx="921.6" cy="1424.4" r="16.67"/><circle cx="1073.7" cy="1218.1" r="16.67"/><circle cx="922.1" cy="1318.5" r="16.67"/><circle cx="1002.8" cy="1145.8" r="16.67"/><circle cx="923.2" cy="1324.8" r="16.67"/><circle cx="932.9" cy="1541.1" r="16.67"/><circle cx="939.7" cy="1232.7" r="16.67"/><circle cx="1048.1" cy="1073.7" r="16.67"/><circle cx="1084.3" cy="1169.8" r="16.67"/><circle cx="962.6" cy="1181.5" r="16.67"/><circle cx="923.1" cy="1279.7" r="16.67"/><circle cx="873.2" cy="1492.7" r="16.67"/><circle cx="940.7" cy="1263.9" r="16.67"/><circle cx="1212.2" cy="992.8" r="16.67"/><circle cx="1252.3" cy="925.7" r="16.67"/><circle cx="1233.9" cy="1078" r="16.67"/><circle cx="1248.7" cy="917.7" r="16.67"/><circle cx="1236.9" cy="1032.8" r="16.67"/><circle cx="1239" cy="974.8" r="16.67"/><circle cx="1206.2" cy="1122.1" r="16.67"/><circle cx="1176.5" cy="1163.4" r="16.67"/><circle cx="1173.1" cy="1133.2" r="16.67"/><circle cx="1169.2" cy="1075.2" r="16.67"/><circle cx="1185.2" cy="1025.7" r="16.67"/><circle cx="1238.7" cy="1034.7" r="16.67"/><circle cx="1185.4" cy="1160" r="16.67"/><circle cx="1170.4" cy="1105.3" r="16.67"/><circle cx="1246.6" cy="986.9" r="16.67"/><circle cx="1171" cy="1037.7" r="16.67"/><circle cx="1177.1" cy="1049.6" r="16.67"/><circle cx="1215" cy="1120.4" r="16.67"/><circle cx="1244.2" cy="996" r="16.67"/><circle cx="1242.7" cy="963.6" r="16.67"/><circle cx="1183.4" cy="1153.5" r="16.67"/><circle cx="1224.2" cy="909.1" r="16.67"/><circle cx="1218.9" cy="913.1" r="16.67"/><circle cx="1251.5" cy="939.9" r="16.67"/><circle cx="1206.9" cy="994.2" r="16.67"/><circle cx="1201.2" cy="1122.8" r="16.67"/><circle cx="1248.6" cy="1012.4" r="16.67"/><circle cx="1183.2" cy="1164.7" r="16.67"/><circle cx="1193.7" cy="1002.9" r="16.67"/><circle cx="1225.1" cy="1076.8" r="16.67"/><circle cx="1211" cy="997" r="16.67"/><circle cx="1181.5" cy="1018.2" r="16.67"/><circle cx="1236" cy="1035.3" r="16.67"/><circle cx="1194.1" cy="1161.4" r="16.67"/><circle cx="1229.2" cy="1057.1" r="16.67"/><circle cx="1175.2" cy="1152.7" r="16.67"/><circle cx="1220.5" cy="945.8" r="16.67"/><circle cx="1219.9" cy="949.9" r="16.67"/><circle cx="1234.6" cy="1001.9" r="16.67"/><circle cx="1193.6" cy="1136.7" r="16.67"/><circle cx="1235.9" cy="966.9" r="16.67"/><circle cx="1212.8" cy="1113.2" r="16.67"/><circle cx="1174.4" cy="1155.9" r="16.67"/><circle cx="1245.7" cy="1020.7" r="16.67"/><circle cx="1220.2" cy="1073.7" r="16.67"/><circle cx="1240.5" cy="1002.4" r="16.67"/><circle cx="1212.1" cy="1001.3" r="16.67"/><circle cx="1196.9" cy="1019.5" r="16.67"/><circle cx="1180.3" cy="1133.2" r="16.67"/><circle cx="1185.6" cy="1072.5" r="16.67"/><circle cx="1182.3" cy="1070.3" r="16.67"/><circle cx="1172.5" cy="1086.3" r="16.67"/><circle cx="1223" cy="995.4" r="16.67"/><circle cx="1181.1" cy="1166.2" r="16.67"/><circle cx="1360.6" cy="813.9" r="16.67"/><circle cx="1377.7" cy="877.5" r="16.67"/><circle cx="1370.9" cy="876.5" r="16.67"/><circle cx="1355" cy="849" r="16.67"/><circle cx="1352.5" cy="810.5" r="16.67"/><circle cx="1377.3" cy="879.4" r="16.67"/><circle cx="1355.6" cy="870" r="16.67"/><circle cx="1342.2" cy="814.9" r="16.67"/><circle cx="1340.3" cy="845.4" r="16.67"/><circle cx="1344.6" cy="907.2" r="16.67"/><circle cx="1343.3" cy="847.6" r="16.67"/><circle cx="1350.5" cy="877.5" r="16.67"/><circle cx="1359" cy="907.2" r="16.67"/><circle cx="1343.2" cy="876.6" r="16.67"/><circle cx="1350.2" cy="886.4" r="16.67"/><circle cx="1361.4" cy="852.3" r="16.67"/><circle cx="1353" cy="862.3" r="16.67"/><circle cx="1350.8" cy="912.5" r="16.67"/><circle cx="1375.4" cy="882.1" r="16.67"/><circle cx="1356.5" cy="823" r="16.67"/><circle cx="1382.1" cy="876.7" r="16.67"/><circle cx="1356.2" cy="873.1" r="16.67"/><circle cx="1354.8" cy="920.9" r="16.67"/><circle cx="1436.2" cy="979.7" r="16.67"/><circle cx="1444.7" cy="955.4" r="16.67"/><circle cx="1445.4" cy="980.3" r="16.67"/><circle cx="1439.8" cy="964.5" r="16.67"/><circle cx="1445.7" cy="956.9" r="16.67"/><circle cx="1466.5" cy="469" r="16.67"/><circle cx="1462.8" cy="504.3" r="16.67"/><circle cx="1460.1" cy="503" r="16.67"/><circle cx="1465.2" cy="481.6" r="16.67"/><circle cx="1457.1" cy="495.2" r="16.67"/><circle cx="1471.6" cy="496" r="16.67"/><circle cx="1463.3" cy="505.2" r="16.67"/><circle cx="1461.8" cy="483.6" r="16.67"/><circle cx="1469.8" cy="496.5" r="16.67"/><circle cx="1461" cy="501.5" r="16.67"/><circle cx="1468.3" cy="451.1" r="16.67"/><circle cx="1475.2" cy="440.2" r="16.67"/></g>
</g>
<g clip-path="url(#cx)">
<rect x="843.5" y="367.4" width="32.5" height="18.1" fill="#55A868" fill-opacity="0.22"/>
<rect x="846" y="370" width="27" height="15.5" fill="#55A868" fill-opacity="0.22"/>
<rect x="914" y="361.3" width="35" height="24.2" fill="#55A868" fill-opacity="0.22"/>
<rect x="917" y="364.5" width="29" height="21" fill="#55A868" fill-opacity="0.22"/>
<rect x="1019.6" y="366.7" width="34.7" height="18.8" fill="#55A868" fill-opacity="0.22"/>
<rect x="1022" y="369.5" width="29" height="16" fill="#55A868" fill-opacity="0.22"/>
<rect x="1161" y="354" width="36" height="31.5" fill="#55A868" fill-opacity="0.22"/>
<rect x="1164" y="357" width="30" height="28.5" fill="#55A868" fill-opacity="0.22"/>
<rect x="1164" y="362" width="19" height="23.5" fill="#55A868" fill-opacity="0.22"/>
<rect x="1338.7" y="367.2" width="34.8" height="18.3" fill="#55A868" fill-opacity="0.22"/>
<rect x="1341" y="369" width="30" height="16.5" fill="#55A868" fill-opacity="0.22"/>
<rect x="1444" y="349" width="36" height="36.5" fill="#55A868" fill-opacity="0.22"/>
<rect x="1447" y="352.3" width="30" height="33.2" fill="#55A868" fill-opacity="0.22"/>
<rect x="1447" y="357.4" width="19" height="28.1" fill="#55A868" fill-opacity="0.22"/>
<rect x="1409.7" y="367.3" width="33.3" height="18.2" fill="#55A868" fill-opacity="0.22"/>
<rect x="1412" y="371" width="13" height="14.5" fill="#55A868" fill-opacity="0.22"/>
<rect x="1135" y="365.2" width="26" height="20.3" fill="#DD8452" fill-opacity="0.22"/>
<rect x="562" y="364.2" width="30" height="21.3" fill="#DD8452" fill-opacity="0.22"/>
<rect x="576" y="364.5" width="43" height="21" fill="#DD8452" fill-opacity="0.22"/>
<rect x="1421" y="354" width="47.7" height="31.5" fill="#DD8452" fill-opacity="0.22"/>
<rect x="1424" y="357" width="19" height="28.5" fill="#DD8452" fill-opacity="0.22"/>
<rect x="1155.4" y="361.3" width="44.6" height="24.2" fill="#4C72B0" fill-opacity="0.22"/>
<rect x="576" y="364" width="17" height="21.5" fill="#4C72B0" fill-opacity="0.22"/>
<rect x="611.6" y="364" width="7.4" height="21.5" fill="#4C72B0" fill-opacity="0.22"/>
<rect x="1423" y="352.3" width="44" height="33.2" fill="#4C72B0" fill-opacity="0.22"/>
<rect x="1424" y="357.5" width="19" height="28" fill="#DD8452" fill-opacity="0.22"/>
<rect x="596" y="367.5" width="34" height="18" fill="#55A868" fill-opacity="0.22"/>
<path d="M317,385C333.5,384.4 385,382.3 416,381.3C447,380.3 478.8,379.9 503,378.8C527.2,377.7 546.5,375.8 561,374.8C575.5,373.8 580.3,372.9 590,372.8C599.7,372.7 604.5,373.6 619,374.3C633.5,375.1 660.2,376.9 677,377.3C693.8,377.7 705.5,376.9 720,376.9C734.5,376.9 749.5,377.5 764,377.2C778.5,376.9 794.3,375.7 807,375.2C819.7,374.7 827.8,374.2 840,374.2C852.2,374.2 865,374.8 880,375.2C895,375.6 910,375.8 930,376.3C950,376.8 981.7,377.9 1000,378.3C1018.3,378.7 1026.7,378.7 1040,378.5C1053.3,378.3 1066.7,378 1080,377.3C1093.3,376.6 1108.7,375.1 1120,374.3C1131.3,373.5 1138,372.3 1148,372.3C1158,372.3 1171,374 1180,374.3C1189,374.6 1193.7,373.7 1202,374.1C1210.3,374.5 1221,376 1230,376.8C1239,377.6 1246,379 1256,379.1C1266,379.2 1276,377.7 1290,377.4C1304,377.1 1321.7,377.4 1340,377.2C1358.3,377 1381,376.8 1400,376.3C1419,375.8 1439,373.9 1454,374.1C1469,374.4 1481.3,376.8 1490,377.8C1498.7,378.8 1497.7,379.7 1506,380.3C1514.3,380.9 1527.7,381.1 1540,381.6C1552.3,382.1 1566.7,382.9 1580,383.4C1593.3,383.9 1600,384.5 1620,384.8C1640,385.1 1686.7,385.3 1700,385.4" fill="none" stroke="#4C72B0" stroke-width="8.33" stroke-linecap="butt" stroke-linejoin="round"/>
<path d="M317,385.2C333.5,384.6 385,382.5 416,381.5C447,380.5 478.8,380.1 503,379C527.2,377.9 546.5,376 561,375C575.5,374 580.3,373.1 590,373C599.7,372.9 604.5,373.8 619,374.5C633.5,375.2 660.2,376.9 677,377.5C693.8,378.1 705.5,378 720,378.2C734.5,378.4 749.5,378.8 764,378.5C778.5,378.2 794.3,377 807,376.5C819.7,376 827.8,375.5 840,375.5C852.2,375.5 865,376.1 880,376.5C895,376.9 910,377.3 930,377.6C950,377.9 981.7,378.3 1000,378.5C1018.3,378.7 1026.7,378.9 1040,378.7C1053.3,378.5 1066.7,378.2 1080,377.5C1093.3,376.8 1108.7,375.3 1120,374.5C1131.3,373.7 1138,372.5 1148,372.5C1158,372.5 1171,374.2 1180,374.5C1189,374.8 1193.7,373.9 1202,374.3C1210.3,374.7 1221,376.2 1230,377C1239,377.8 1246,379.2 1256,379.3C1266,379.4 1276,377.9 1290,377.6C1304,377.3 1321.7,377.6 1340,377.4C1358.3,377.2 1381,377 1400,376.5C1419,376 1439,374.1 1454,374.3C1469,374.6 1481.3,377 1490,378C1498.7,379 1497.7,379.9 1506,380.5C1514.3,381.1 1527.7,381.3 1540,381.8C1552.3,382.3 1566.7,383.1 1580,383.6C1593.3,384.1 1600,384.7 1620,385C1640,385.3 1686.7,385.5 1700,385.6" fill="none" stroke="#DD8452" stroke-width="8.33" stroke-linecap="butt" stroke-linejoin="round"/>
<path d="M440,385.6C446.7,385.5 464.7,385.7 480,385.2C495.3,384.7 513.7,383.6 532,382.5C550.3,381.4 570.7,379 590,378.5C609.3,378 633.5,379.2 648,379.5C662.5,379.8 667.3,380.2 677,380C686.7,379.8 696.3,378.7 706,378.5C715.7,378.3 723,378.8 735,379C747,379.2 766,380.1 778,380C790,379.9 797.3,379.3 807,378.5C816.7,377.7 825.5,376.2 836,375C846.5,373.8 859.3,372.2 870,371C880.7,369.8 889.2,368.8 900,368C910.8,367.2 923.3,366.4 935,366.3C946.7,366.2 957.5,366.7 970,367.5C982.5,368.3 996.7,369.7 1010,371C1023.3,372.3 1037.8,374.3 1050,375.5C1062.2,376.7 1073,377.7 1083,378.3C1093,378.9 1102.8,379 1110,379C1117.2,379 1119.3,379.2 1126,378.5C1132.7,377.8 1141.8,376 1150,374.5C1158.2,373 1166.7,370.7 1175,369.5C1183.3,368.3 1190.8,367.3 1200,367.4C1209.2,367.5 1220.7,368.6 1230,370C1239.3,371.4 1248,374.1 1256,375.5C1264,376.9 1267.3,378 1278,378.3C1288.7,378.6 1303.7,378 1320,377.5C1336.3,377 1361,376.4 1376,375.4C1391,374.4 1399.3,372.8 1410,371.5C1420.7,370.2 1432.7,368.3 1440,367.5C1447.3,366.7 1449,366.7 1454,366.7C1459,366.7 1463.2,366.4 1470,367.5C1476.8,368.6 1486.8,371.1 1495,373C1503.2,374.9 1510.7,377.1 1519,378.7C1527.3,380.2 1536.5,381.4 1545,382.3C1553.5,383.2 1560.8,383.9 1570,384.4C1579.2,384.9 1578.3,385.3 1600,385.5C1621.7,385.7 1683.3,385.8 1700,385.8" fill="none" stroke="#55A868" stroke-width="8.33" stroke-linecap="butt" stroke-linejoin="round"/>
</g>
<g clip-path="url(#cy)">
<rect x="2020.5" y="456" width="14.3" height="84.6" fill="#55A868" fill-opacity="0.22"/>
<rect x="2020.5" y="787" width="9.3" height="51.6" fill="#55A868" fill-opacity="0.22"/>
<rect x="2020.5" y="922.6" width="14.3" height="47.4" fill="#55A868" fill-opacity="0.22"/>
<rect x="2020.5" y="1094.4" width="17.3" height="41.3" fill="#55A868" fill-opacity="0.22"/>
<rect x="2020.5" y="1773.6" width="16.1" height="44.3" fill="#55A868" fill-opacity="0.22"/>
<rect x="2020.5" y="1817.9" width="15.5" height="25.1" fill="#DD8452" fill-opacity="0.22"/>
<rect x="2020.5" y="1700" width="10.5" height="73" fill="#4C72B0" fill-opacity="0.22"/>
<path d="M2022.7,443.5C2022.9,462.9 2024,522.9 2023.7,560C2023.4,597.1 2021,626 2020.7,666C2020.4,706 2021.3,744.3 2021.7,800C2022.1,855.7 2022.6,950 2023.2,1000C2023.8,1050 2024.6,1066.7 2025.2,1100C2025.8,1133.3 2026.8,1162.7 2026.7,1200C2026.6,1237.3 2025.1,1283.7 2024.7,1324C2024.3,1364.3 2023.9,1401 2024.2,1442C2024.5,1483 2025.8,1534 2026.7,1570C2027.6,1606 2029.2,1623.7 2029.8,1658C2030.4,1692.3 2030.4,1744 2030.2,1776C2030,1808 2029.4,1825.3 2028.7,1850C2028,1874.7 2026.6,1899 2025.8,1924C2025,1949 2024.4,1970.5 2023.7,2000C2023,2029.5 2021.9,2080.8 2021.4,2101C2020.9,2121.2 2020.8,2118.1 2020.7,2121.5" fill="none" stroke="#4C72B0" stroke-width="8.33"/>
<path d="M2022.5,443.5C2022.7,462.9 2023.8,522.9 2023.5,560C2023.2,597.1 2020.8,626 2020.5,666C2020.2,706 2021.1,744.3 2021.5,800C2021.9,855.7 2022.4,950 2023,1000C2023.6,1050 2024.4,1066.7 2025,1100C2025.6,1133.3 2026.6,1162.7 2026.5,1200C2026.4,1237.3 2024.9,1283.7 2024.5,1324C2024.1,1364.3 2023.8,1401 2024,1442C2024.2,1483 2024.7,1534 2025.5,1570C2026.3,1606 2027.8,1623.7 2028.6,1658C2029.3,1692.3 2030,1744 2030,1776C2030,1808 2029.2,1825.3 2028.5,1850C2027.8,1874.7 2026.4,1899 2025.6,1924C2024.8,1949 2024.2,1970.5 2023.5,2000C2022.8,2029.5 2021.7,2080.8 2021.2,2101C2020.7,2121.2 2020.6,2118.1 2020.5,2121.5" fill="none" stroke="#DD8452" stroke-width="8.33"/>
<path d="M2025.6,443.5C2025.6,452.9 2025.8,480.6 2025.5,500C2025.2,519.4 2024.7,540 2024,560C2023.3,580 2022.2,602.3 2021.5,620C2020.8,637.7 2020.1,649.3 2020,666C2019.9,682.7 2020.3,697.7 2021,720C2021.7,742.3 2022.9,770 2024,800C2025.1,830 2026.5,866.7 2027.5,900C2028.5,933.3 2029.2,973.5 2030,1000C2030.8,1026.5 2032.5,1034.5 2032.4,1059C2032.3,1083.5 2030.5,1117.5 2029.5,1147C2028.5,1176.5 2026.9,1206.5 2026.5,1236C2026.1,1265.5 2026.6,1289.7 2027,1324C2027.4,1358.3 2028.8,1401 2028.8,1442C2028.8,1483 2027.8,1534 2027,1570C2026.2,1606 2024.6,1623.7 2024,1658C2023.4,1692.3 2023.5,1734.5 2023.3,1776C2023.1,1817.5 2023,1856.7 2022.7,1907C2022.4,1957.3 2021.9,2042.2 2021.5,2078C2021.1,2113.8 2020.7,2114.2 2020.5,2121.5" fill="none" stroke="#55A868" stroke-width="8.33"/>
</g>
<line x1="316.5" y1="443.5" x2="316.5" y2="2121.5" stroke="#262626" stroke-width="6.94" stroke-linecap="square"/>
<line x1="316.5" y1="2121.5" x2="1963.5" y2="2121.5" stroke="#262626" stroke-width="6.94" stroke-linecap="square"/>
<line x1="316.5" y1="385.5" x2="1963.5" y2="385.5" stroke="#262626" stroke-width="6.94" stroke-linecap="square"/>
<line x1="2020.5" y1="443.5" x2="2020.5" y2="2121.5" stroke="#262626" stroke-width="6.94" stroke-linecap="square"/>
<g font-family="Liberation Sans, sans-serif" fill="#262626">
<text x="316.5" y="2220.3" font-size="65.3" text-anchor="middle" textLength="97.2" lengthAdjust="spacingAndGlyphs">0.0</text>
<text x="262.7" y="2144.2" font-size="65.3" text-anchor="end" textLength="97.2" lengthAdjust="spacingAndGlyphs">0.0</text>
<text x="645.9" y="2220.3" font-size="65.3" text-anchor="middle" textLength="97.2" lengthAdjust="spacingAndGlyphs">0.5</text>
<text x="262.7" y="1808.6" font-size="65.3" text-anchor="end" textLength="97.2" lengthAdjust="spacingAndGlyphs">0.5</text>
<text x="975.3" y="2220.3" font-size="65.3" text-anchor="middle" textLength="97.2" lengthAdjust="spacingAndGlyphs">1.0</text>
<text x="262.7" y="1473" font-size="65.3" text-anchor="end" textLength="97.2" lengthAdjust="spacingAndGlyphs">1.0</text>
<text x="1304.7" y="2220.3" font-size="65.3" text-anchor="middle" textLength="97.2" lengthAdjust="spacingAndGlyphs">1.5</text>
<text x="262.7" y="1137.4" font-size="65.3" text-anchor="end" textLength="97.2" lengthAdjust="spacingAndGlyphs">1.5</text>
<text x="1634.1" y="2220.3" font-size="65.3" text-anchor="middle" textLength="97.2" lengthAdjust="spacingAndGlyphs">2.0</text>
<text x="262.7" y="801.8" font-size="65.3" text-anchor="end" textLength="97.2" lengthAdjust="spacingAndGlyphs">2.0</text>
<text x="1963.5" y="2220.3" font-size="65.3" text-anchor="middle" textLength="97.2" lengthAdjust="spacingAndGlyphs">2.5</text>
<text x="262.7" y="466.2" font-size="65.3" text-anchor="end" textLength="97.2" lengthAdjust="spacingAndGlyphs">2.5</text>
<text x="1140" y="2306.9" font-size="70.6" text-anchor="middle" textLength="928.5" lengthAdjust="spacingAndGlyphs">Predicted from Bottom 95%</text>
<text transform="translate(128.8,1282.5) rotate(-90)" font-size="70.6" text-anchor="middle" textLength="812.6" lengthAdjust="spacingAndGlyphs">Predicted from Full Data</text>
</g>
</svg>
</body></html>
